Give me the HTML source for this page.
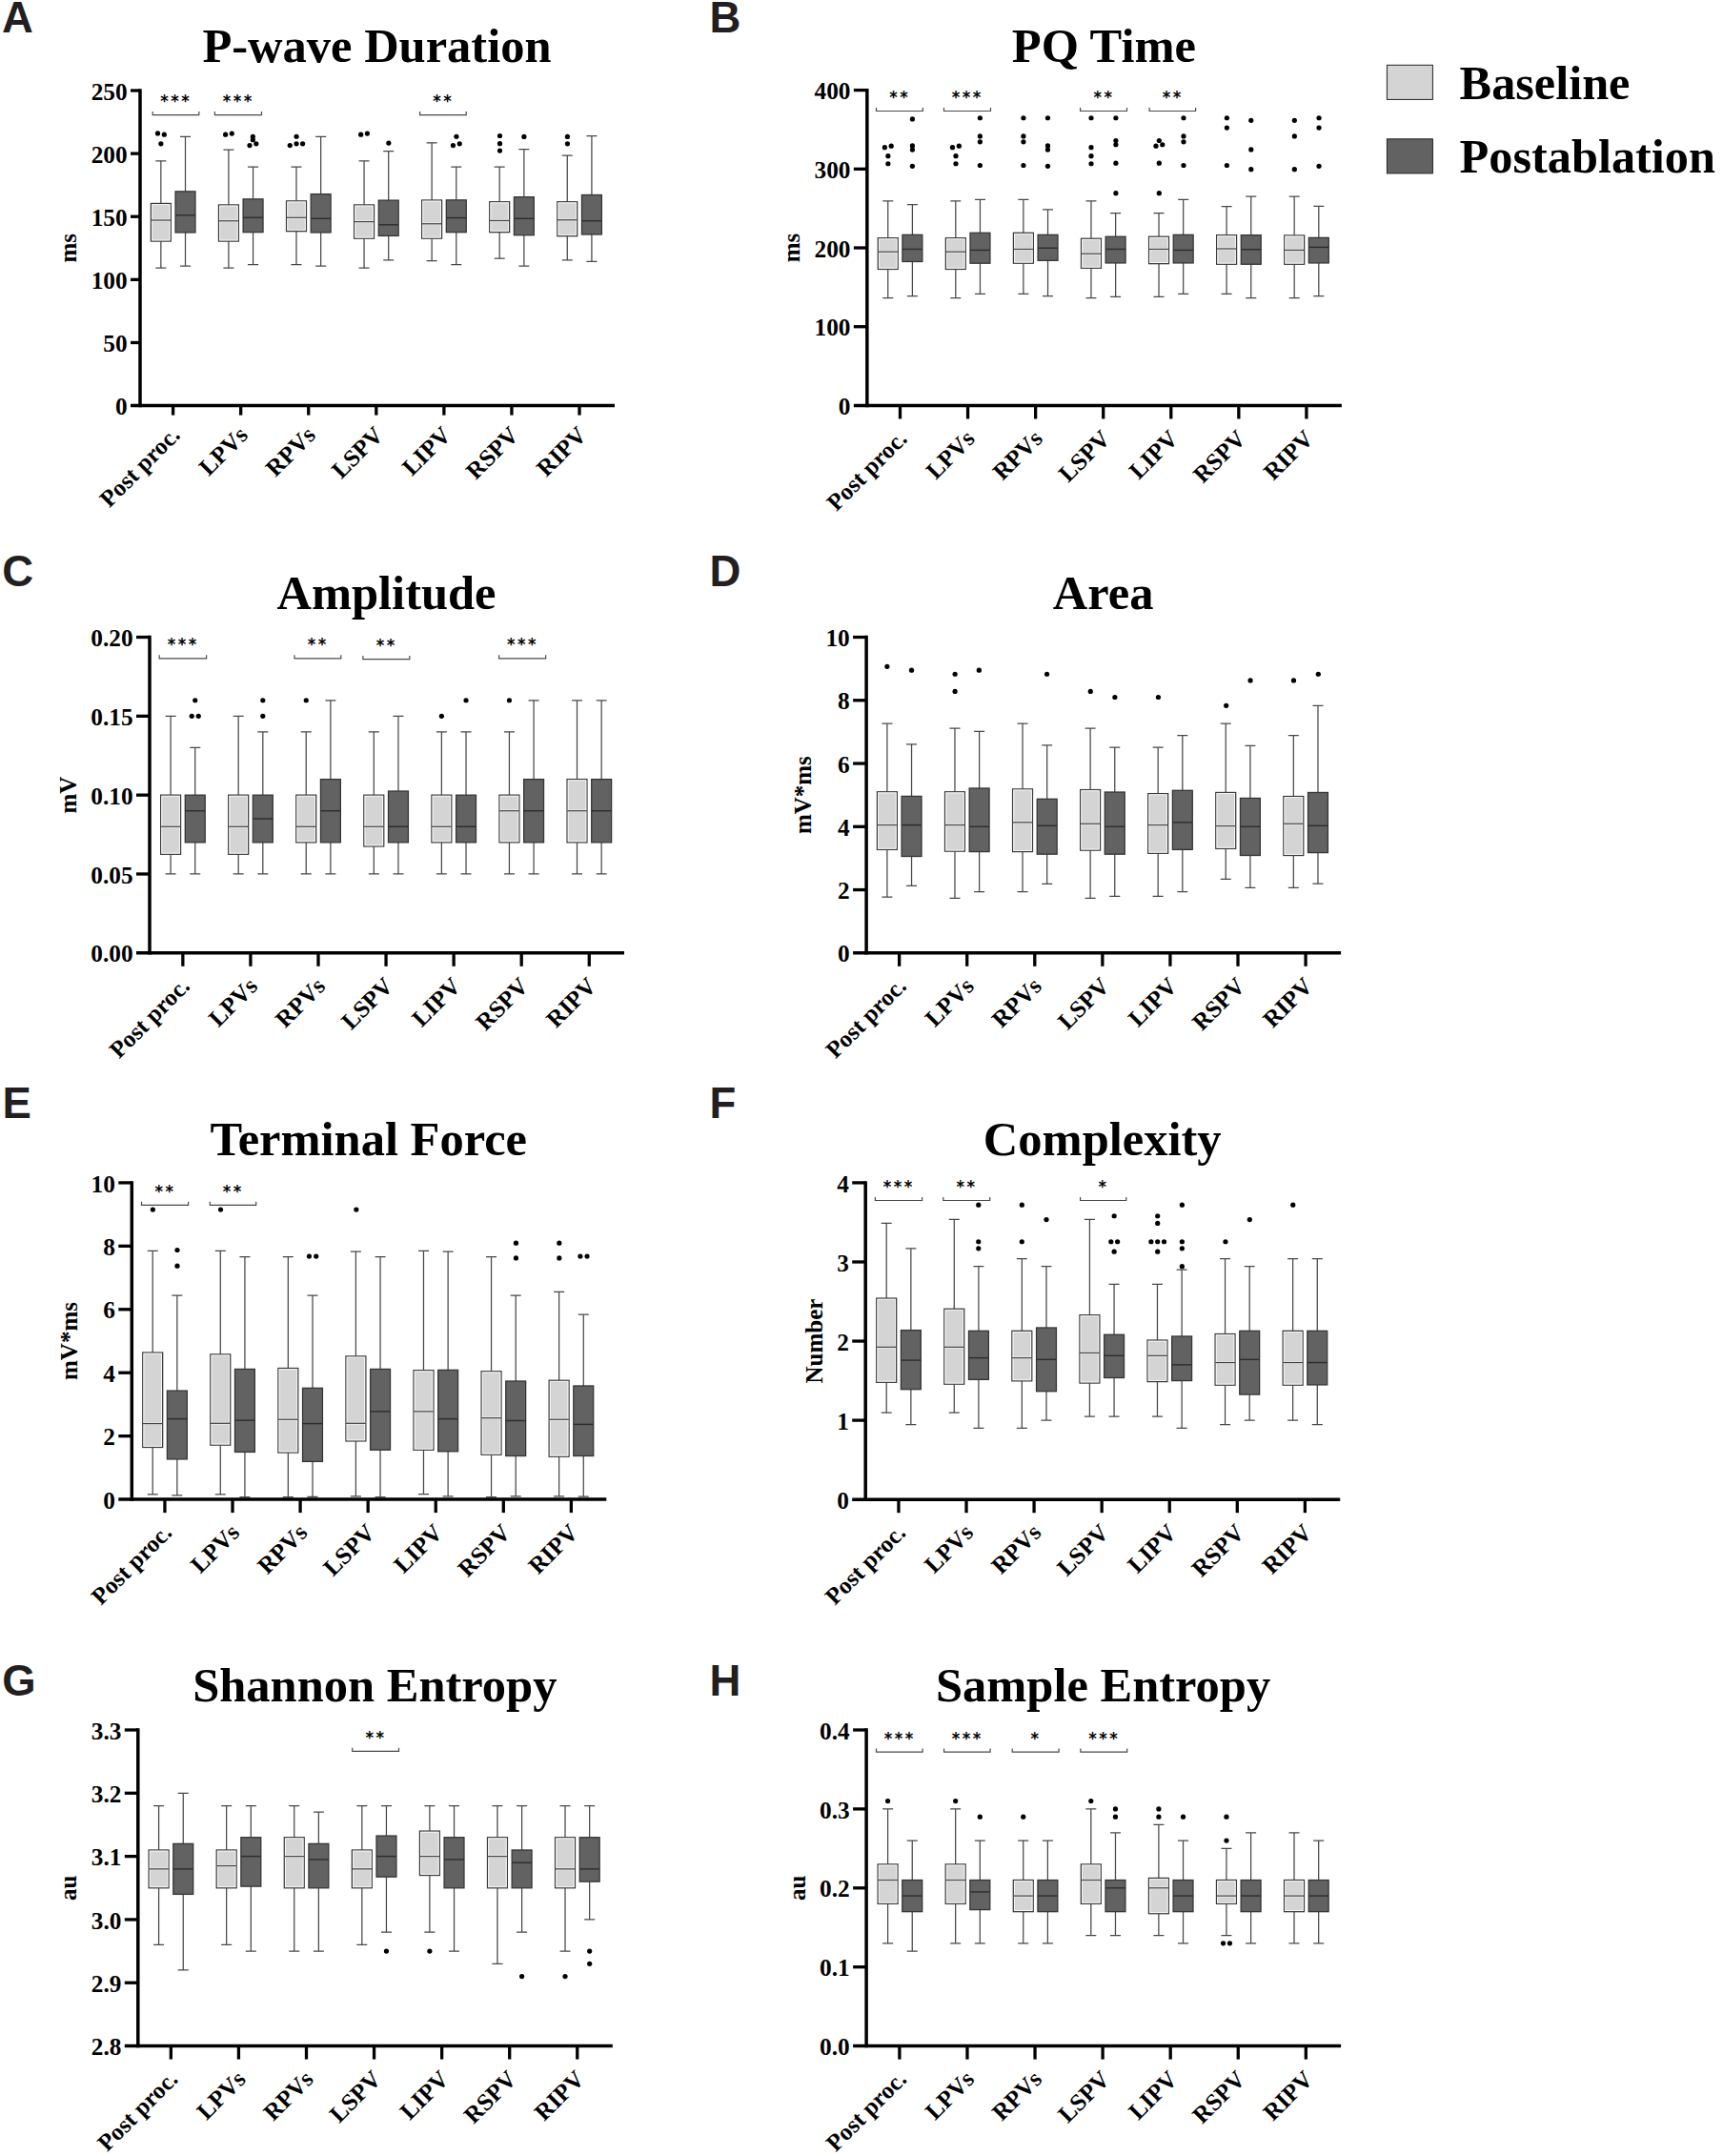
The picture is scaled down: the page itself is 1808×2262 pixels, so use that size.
<!DOCTYPE html>
<html lang="en">
<head>
<meta charset="utf-8">
<title>P-wave parameters: baseline vs postablation</title>
<style>
html,body{margin:0;padding:0;background:#fff;}
body{width:1808px;height:2262px;overflow:hidden;}
svg{display:block;}
svg text{font-family:"Liberation Serif",serif;fill:#000;}
</style>
</head>
<body>
<svg width="1808" height="2262" viewBox="0 0 1808 2262">
<rect width="1808" height="2262" fill="#fff"/>
<g id="panelA">
<path d="M168.85 168.93V213.47M168.85 253.09V281.09M163.35 168.93h11M163.35 281.09h11" stroke="#484848" stroke-width="1.25" fill="none"/>
<rect x="158.4" y="213.47" width="20.9" height="39.61" fill="#d4d4d4" stroke="#3c3c3c" stroke-width="1.3"/>
<rect x="159.55" y="214.62" width="18.6" height="37.31" fill="none" stroke="#f6f6f6" stroke-width="1"/>
<path d="M159 231.03h19.7" stroke="#f0f0f0" stroke-width="2.7"/>
<path d="M158.4 231.03h20.9" stroke="#464646" stroke-width="1.3"/>
<circle cx="165.53" cy="139.91" r="2.6" fill="#000"/>
<circle cx="172.34" cy="141.22" r="2.6" fill="#000"/>
<circle cx="168.86" cy="150.79" r="2.6" fill="#000"/>
<path d="M194.5 143.25V200.85M194.5 243.94V279.06M189 143.25h11M189 279.06h11" stroke="#484848" stroke-width="1.25" fill="none"/>
<rect x="184.05" y="200.85" width="20.9" height="43.09" fill="#626262" stroke="#363636" stroke-width="1.3"/>
<path d="M184.05 225.81h20.9" stroke="#2c2c2c" stroke-width="1.4"/>
<path d="M239.92 157.18V214.93M239.92 253.09V281.09M234.42 157.18h11M234.42 281.09h11" stroke="#484848" stroke-width="1.25" fill="none"/>
<rect x="229.47" y="214.93" width="20.9" height="38.16" fill="#d4d4d4" stroke="#3c3c3c" stroke-width="1.3"/>
<rect x="230.62" y="216.08" width="18.6" height="35.86" fill="none" stroke="#f6f6f6" stroke-width="1"/>
<path d="M230.07 231.76h19.7" stroke="#f0f0f0" stroke-width="2.7"/>
<path d="M229.47 231.76h20.9" stroke="#464646" stroke-width="1.3"/>
<circle cx="236.62" cy="141.22" r="2.6" fill="#000"/>
<circle cx="243.3" cy="140.06" r="2.6" fill="#000"/>
<path d="M265.57 175.17V208.83M265.57 243.65V277.61M260.07 175.17h11M260.07 277.61h11" stroke="#484848" stroke-width="1.25" fill="none"/>
<rect x="255.12" y="208.83" width="20.9" height="34.82" fill="#626262" stroke="#363636" stroke-width="1.3"/>
<path d="M255.12 228.27h20.9" stroke="#2c2c2c" stroke-width="1.4"/>
<circle cx="265.35" cy="143.25" r="2.6" fill="#000"/>
<circle cx="265.35" cy="146.73" r="2.6" fill="#000"/>
<circle cx="262.01" cy="152.53" r="2.6" fill="#000"/>
<circle cx="268.83" cy="150.79" r="2.6" fill="#000"/>
<path d="M310.99 175.17V210.86M310.99 242.64V277.61M305.49 175.17h11M305.49 277.61h11" stroke="#484848" stroke-width="1.25" fill="none"/>
<rect x="300.54" y="210.86" width="20.9" height="31.78" fill="#d4d4d4" stroke="#3c3c3c" stroke-width="1.3"/>
<rect x="301.69" y="212.01" width="18.6" height="29.48" fill="none" stroke="#f6f6f6" stroke-width="1"/>
<path d="M301.14 228.27h19.7" stroke="#f0f0f0" stroke-width="2.7"/>
<path d="M300.54 228.27h20.9" stroke="#464646" stroke-width="1.3"/>
<circle cx="311.06" cy="143.25" r="2.6" fill="#000"/>
<circle cx="304.24" cy="152.53" r="2.6" fill="#000"/>
<circle cx="311.06" cy="150.79" r="2.6" fill="#000"/>
<circle cx="317.59" cy="150.79" r="2.6" fill="#000"/>
<path d="M336.64 143.25V203.61M336.64 243.94V279.06M331.14 143.25h11M331.14 279.06h11" stroke="#484848" stroke-width="1.25" fill="none"/>
<rect x="326.19" y="203.61" width="20.9" height="40.34" fill="#626262" stroke="#363636" stroke-width="1.3"/>
<path d="M326.19 229.29h20.9" stroke="#2c2c2c" stroke-width="1.4"/>
<path d="M382.06 168.93V214.93M382.06 250.18V281.09M376.56 168.93h11M376.56 281.09h11" stroke="#484848" stroke-width="1.25" fill="none"/>
<rect x="371.61" y="214.93" width="20.9" height="35.26" fill="#d4d4d4" stroke="#3c3c3c" stroke-width="1.3"/>
<rect x="372.76" y="216.08" width="18.6" height="32.96" fill="none" stroke="#f6f6f6" stroke-width="1"/>
<path d="M372.21 232.63h19.7" stroke="#f0f0f0" stroke-width="2.7"/>
<path d="M371.61 232.63h20.9" stroke="#464646" stroke-width="1.3"/>
<circle cx="378.67" cy="141.22" r="2.6" fill="#000"/>
<circle cx="385.35" cy="140.06" r="2.6" fill="#000"/>
<path d="M407.71 158.63V210.14M407.71 247.43V272.96M402.21 158.63h11M402.21 272.96h11" stroke="#484848" stroke-width="1.25" fill="none"/>
<rect x="397.26" y="210.14" width="20.9" height="37.29" fill="#626262" stroke="#363636" stroke-width="1.3"/>
<path d="M397.26 235.82h20.9" stroke="#2c2c2c" stroke-width="1.4"/>
<circle cx="407.84" cy="150.07" r="2.6" fill="#000"/>
<path d="M453.13 149.92V209.99M453.13 250.18V273.54M447.63 149.92h11M447.63 273.54h11" stroke="#484848" stroke-width="1.25" fill="none"/>
<rect x="442.68" y="209.99" width="20.9" height="40.19" fill="#d4d4d4" stroke="#3c3c3c" stroke-width="1.3"/>
<rect x="443.83" y="211.14" width="18.6" height="37.89" fill="none" stroke="#f6f6f6" stroke-width="1"/>
<path d="M443.28 234.8h19.7" stroke="#f0f0f0" stroke-width="2.7"/>
<path d="M442.68 234.8h20.9" stroke="#464646" stroke-width="1.3"/>
<path d="M478.78 175.02V209.85M478.78 243.65V277.61M473.28 175.02h11M473.28 277.61h11" stroke="#484848" stroke-width="1.25" fill="none"/>
<rect x="468.33" y="209.85" width="20.9" height="33.81" fill="#626262" stroke="#363636" stroke-width="1.3"/>
<path d="M468.33 228.56h20.9" stroke="#2c2c2c" stroke-width="1.4"/>
<circle cx="478.93" cy="143.25" r="2.6" fill="#000"/>
<circle cx="475.45" cy="152.53" r="2.6" fill="#000"/>
<circle cx="482.27" cy="150.79" r="2.6" fill="#000"/>
<path d="M524.2 175.02V211.73M524.2 243.65V271.08M518.7 175.02h11M518.7 271.08h11" stroke="#484848" stroke-width="1.25" fill="none"/>
<rect x="513.75" y="211.73" width="20.9" height="31.92" fill="#d4d4d4" stroke="#3c3c3c" stroke-width="1.3"/>
<rect x="514.9" y="212.88" width="18.6" height="29.62" fill="none" stroke="#f6f6f6" stroke-width="1"/>
<path d="M514.35 231.47h19.7" stroke="#f0f0f0" stroke-width="2.7"/>
<path d="M513.75 231.47h20.9" stroke="#464646" stroke-width="1.3"/>
<circle cx="524.49" cy="142.52" r="2.6" fill="#000"/>
<circle cx="524.49" cy="150.65" r="2.6" fill="#000"/>
<circle cx="524.49" cy="158.05" r="2.6" fill="#000"/>
<path d="M549.85 156.6V206.66M549.85 246.7V279.06M544.35 156.6h11M544.35 279.06h11" stroke="#484848" stroke-width="1.25" fill="none"/>
<rect x="539.4" y="206.66" width="20.9" height="40.05" fill="#626262" stroke="#363636" stroke-width="1.3"/>
<path d="M539.4 229.29h20.9" stroke="#2c2c2c" stroke-width="1.4"/>
<circle cx="549.88" cy="143.39" r="2.6" fill="#000"/>
<path d="M595.27 163.13V211.73M595.27 247.72V272.96M589.77 163.13h11M589.77 272.96h11" stroke="#484848" stroke-width="1.25" fill="none"/>
<rect x="584.82" y="211.73" width="20.9" height="35.98" fill="#d4d4d4" stroke="#3c3c3c" stroke-width="1.3"/>
<rect x="585.97" y="212.88" width="18.6" height="33.68" fill="none" stroke="#f6f6f6" stroke-width="1"/>
<path d="M585.42 230.74h19.7" stroke="#f0f0f0" stroke-width="2.7"/>
<path d="M584.82 230.74h20.9" stroke="#464646" stroke-width="1.3"/>
<circle cx="595.44" cy="143.39" r="2.6" fill="#000"/>
<circle cx="595.44" cy="150.79" r="2.6" fill="#000"/>
<path d="M620.92 142.52V204.48M620.92 245.98V274.41M615.42 142.52h11M615.42 274.41h11" stroke="#484848" stroke-width="1.25" fill="none"/>
<rect x="610.47" y="204.48" width="20.9" height="41.5" fill="#626262" stroke="#363636" stroke-width="1.3"/>
<path d="M610.47 231.76h20.9" stroke="#2c2c2c" stroke-width="1.4"/>
<path d="M160.2 117.1V120.7H208.8V117.1" stroke="#4a4a4a" stroke-width="1.2" fill="none"/>
<text transform="translate(184.84 112) scale(0.915 1)" font-size="17.8" text-anchor="middle" letter-spacing="2.7" font-weight="bold" style="font-family:'DejaVu Sans',sans-serif">***</text>
<path d="M225.4 117.1V120.7H274.5V117.1" stroke="#4a4a4a" stroke-width="1.2" fill="none"/>
<text transform="translate(250.29 112) scale(0.915 1)" font-size="17.8" text-anchor="middle" letter-spacing="2.7" font-weight="bold" style="font-family:'DejaVu Sans',sans-serif">***</text>
<path d="M440.6 117.1V120.7H489.2V117.1" stroke="#4a4a4a" stroke-width="1.2" fill="none"/>
<text transform="translate(465.24 112) scale(0.915 1)" font-size="17.8" text-anchor="middle" letter-spacing="2.7" font-weight="bold" style="font-family:'DejaVu Sans',sans-serif">**</text>
<path d="M147 93.35V427.35" stroke="#000" stroke-width="3.5"/>
<path d="M137 425.6H645" stroke="#000" stroke-width="3.5"/>
<path d="M137 95H147" stroke="#000" stroke-width="3.3"/>
<text x="133.6" y="104.6" font-size="25.3" text-anchor="end" font-weight="bold">250</text>
<path d="M137 161.12H147" stroke="#000" stroke-width="3.3"/>
<text x="133.6" y="170.72" font-size="25.3" text-anchor="end" font-weight="bold">200</text>
<path d="M137 227.24H147" stroke="#000" stroke-width="3.3"/>
<text x="133.6" y="236.84" font-size="25.3" text-anchor="end" font-weight="bold">150</text>
<path d="M137 293.36H147" stroke="#000" stroke-width="3.3"/>
<text x="133.6" y="302.96" font-size="25.3" text-anchor="end" font-weight="bold">100</text>
<path d="M137 359.48H147" stroke="#000" stroke-width="3.3"/>
<text x="133.6" y="369.08" font-size="25.3" text-anchor="end" font-weight="bold">50</text>
<text x="133.6" y="435.2" font-size="25.3" text-anchor="end" font-weight="bold">0</text>
<path d="M181.6 425.6V435.6" stroke="#000" stroke-width="3.3"/>
<text transform="translate(190.3 457.85) rotate(-45)" font-size="25.1" text-anchor="end" font-weight="bold">Post proc.</text>
<path d="M252.67 425.6V435.6" stroke="#000" stroke-width="3.3"/>
<text transform="translate(261.37 457.85) rotate(-45)" font-size="25.1" text-anchor="end" font-weight="bold">LPVs</text>
<path d="M323.74 425.6V435.6" stroke="#000" stroke-width="3.3"/>
<text transform="translate(332.44 457.85) rotate(-45)" font-size="25.1" text-anchor="end" font-weight="bold">RPVs</text>
<path d="M394.81 425.6V435.6" stroke="#000" stroke-width="3.3"/>
<text transform="translate(403.51 457.85) rotate(-45)" font-size="25.1" text-anchor="end" font-weight="bold">LSPV</text>
<path d="M465.88 425.6V435.6" stroke="#000" stroke-width="3.3"/>
<text transform="translate(474.58 457.85) rotate(-45)" font-size="25.1" text-anchor="end" font-weight="bold">LIPV</text>
<path d="M536.95 425.6V435.6" stroke="#000" stroke-width="3.3"/>
<text transform="translate(545.65 457.85) rotate(-45)" font-size="25.1" text-anchor="end" font-weight="bold">RSPV</text>
<path d="M608.02 425.6V435.6" stroke="#000" stroke-width="3.3"/>
<text transform="translate(616.72 457.85) rotate(-45)" font-size="25.1" text-anchor="end" font-weight="bold">RIPV</text>
<text transform="translate(80.4 260.3) rotate(-90)" font-size="25" text-anchor="middle" font-weight="bold">ms</text>
<text x="395.5" y="65.2" font-size="50.5" text-anchor="middle" font-weight="bold">P-wave Duration</text>
<text x="2" y="33.8" font-size="45.5" style="font-family:'Liberation Sans',sans-serif;fill:#231f20" font-weight="bold">A</text>
</g>
<g id="panelB">
<path d="M931.75 210.79V249.67M931.75 282.46V312.5M926.25 210.79h11M926.25 312.5h11" stroke="#484848" stroke-width="1.25" fill="none"/>
<rect x="921.3" y="249.67" width="20.9" height="32.79" fill="#d4d4d4" stroke="#3c3c3c" stroke-width="1.3"/>
<rect x="922.45" y="250.82" width="18.6" height="30.49" fill="none" stroke="#f6f6f6" stroke-width="1"/>
<path d="M921.9 264.18h19.7" stroke="#f0f0f0" stroke-width="2.7"/>
<path d="M921.3 264.18h20.9" stroke="#464646" stroke-width="1.3"/>
<circle cx="928.4" cy="154.63" r="2.6" fill="#000"/>
<circle cx="935.22" cy="153.18" r="2.6" fill="#000"/>
<circle cx="931.88" cy="163.63" r="2.6" fill="#000"/>
<circle cx="931.88" cy="171.76" r="2.6" fill="#000"/>
<path d="M957.4 214.7V246.33M957.4 274.48V310.61M951.9 214.7h11M951.9 310.61h11" stroke="#484848" stroke-width="1.25" fill="none"/>
<rect x="946.95" y="246.33" width="20.9" height="28.15" fill="#626262" stroke="#363636" stroke-width="1.3"/>
<path d="M946.95 261.42h20.9" stroke="#2c2c2c" stroke-width="1.4"/>
<circle cx="957.41" cy="124.89" r="2.6" fill="#000"/>
<circle cx="957.41" cy="152.89" r="2.6" fill="#000"/>
<circle cx="957.41" cy="157.1" r="2.6" fill="#000"/>
<circle cx="957.41" cy="174.37" r="2.6" fill="#000"/>
<path d="M1002.82 210.79V249.67M1002.82 282.46V312.5M997.32 210.79h11M997.32 312.5h11" stroke="#484848" stroke-width="1.25" fill="none"/>
<rect x="992.37" y="249.67" width="20.9" height="32.79" fill="#d4d4d4" stroke="#3c3c3c" stroke-width="1.3"/>
<rect x="993.52" y="250.82" width="18.6" height="30.49" fill="none" stroke="#f6f6f6" stroke-width="1"/>
<path d="M992.97 264.18h19.7" stroke="#f0f0f0" stroke-width="2.7"/>
<path d="M992.37 264.18h20.9" stroke="#464646" stroke-width="1.3"/>
<circle cx="999.49" cy="154.63" r="2.6" fill="#000"/>
<circle cx="1006.31" cy="153.18" r="2.6" fill="#000"/>
<circle cx="1002.98" cy="163.63" r="2.6" fill="#000"/>
<circle cx="1002.98" cy="171.76" r="2.6" fill="#000"/>
<path d="M1028.47 209.34V244.3M1028.47 276.22V308.44M1022.97 209.34h11M1022.97 308.44h11" stroke="#484848" stroke-width="1.25" fill="none"/>
<rect x="1018.02" y="244.3" width="20.9" height="31.92" fill="#626262" stroke="#363636" stroke-width="1.3"/>
<path d="M1018.02 262.44h20.9" stroke="#2c2c2c" stroke-width="1.4"/>
<circle cx="1028.37" cy="123.73" r="2.6" fill="#000"/>
<circle cx="1028.37" cy="142.88" r="2.6" fill="#000"/>
<circle cx="1028.37" cy="148.83" r="2.6" fill="#000"/>
<circle cx="1028.37" cy="173.5" r="2.6" fill="#000"/>
<path d="M1073.89 209.34V244.3M1073.89 276.22V308.44M1068.39 209.34h11M1068.39 308.44h11" stroke="#484848" stroke-width="1.25" fill="none"/>
<rect x="1063.44" y="244.3" width="20.9" height="31.92" fill="#d4d4d4" stroke="#3c3c3c" stroke-width="1.3"/>
<rect x="1064.59" y="245.45" width="18.6" height="29.62" fill="none" stroke="#f6f6f6" stroke-width="1"/>
<path d="M1064.04 261.42h19.7" stroke="#f0f0f0" stroke-width="2.7"/>
<path d="M1063.44 261.42h20.9" stroke="#464646" stroke-width="1.3"/>
<circle cx="1073.93" cy="123.73" r="2.6" fill="#000"/>
<circle cx="1073.93" cy="142.88" r="2.6" fill="#000"/>
<circle cx="1073.93" cy="148.83" r="2.6" fill="#000"/>
<circle cx="1073.93" cy="173.5" r="2.6" fill="#000"/>
<path d="M1099.54 219.93V246.33M1099.54 273.32V310.61M1094.04 219.93h11M1094.04 310.61h11" stroke="#484848" stroke-width="1.25" fill="none"/>
<rect x="1089.09" y="246.33" width="20.9" height="26.99" fill="#626262" stroke="#363636" stroke-width="1.3"/>
<path d="M1089.09 260.26h20.9" stroke="#2c2c2c" stroke-width="1.4"/>
<circle cx="1099.46" cy="123.73" r="2.6" fill="#000"/>
<circle cx="1099.46" cy="152.89" r="2.6" fill="#000"/>
<circle cx="1099.46" cy="157.1" r="2.6" fill="#000"/>
<circle cx="1099.46" cy="174.37" r="2.6" fill="#000"/>
<path d="M1144.96 210.79V250.25M1144.96 281.3V312.5M1139.46 210.79h11M1139.46 312.5h11" stroke="#484848" stroke-width="1.25" fill="none"/>
<rect x="1134.51" y="250.25" width="20.9" height="31.05" fill="#d4d4d4" stroke="#3c3c3c" stroke-width="1.3"/>
<rect x="1135.66" y="251.4" width="18.6" height="28.75" fill="none" stroke="#f6f6f6" stroke-width="1"/>
<path d="M1135.11 266.21h19.7" stroke="#f0f0f0" stroke-width="2.7"/>
<path d="M1134.51 266.21h20.9" stroke="#464646" stroke-width="1.3"/>
<circle cx="1145.02" cy="123.73" r="2.6" fill="#000"/>
<circle cx="1145.02" cy="154.63" r="2.6" fill="#000"/>
<circle cx="1145.02" cy="163.63" r="2.6" fill="#000"/>
<circle cx="1145.02" cy="171.76" r="2.6" fill="#000"/>
<path d="M1170.61 223.7V248.22M1170.61 275.93V311.48M1165.11 223.7h11M1165.11 311.48h11" stroke="#484848" stroke-width="1.25" fill="none"/>
<rect x="1160.16" y="248.22" width="20.9" height="27.71" fill="#626262" stroke="#363636" stroke-width="1.3"/>
<path d="M1160.16 261.42h20.9" stroke="#2c2c2c" stroke-width="1.4"/>
<circle cx="1170.88" cy="123.73" r="2.6" fill="#000"/>
<circle cx="1170.88" cy="147.52" r="2.6" fill="#000"/>
<circle cx="1170.88" cy="151.73" r="2.6" fill="#000"/>
<circle cx="1170.88" cy="171.18" r="2.6" fill="#000"/>
<circle cx="1170.88" cy="202.66" r="2.6" fill="#000"/>
<path d="M1216.03 223.7V248.22M1216.03 276.66V311.48M1210.53 223.7h11M1210.53 311.48h11" stroke="#484848" stroke-width="1.25" fill="none"/>
<rect x="1205.58" y="248.22" width="20.9" height="28.44" fill="#d4d4d4" stroke="#3c3c3c" stroke-width="1.3"/>
<rect x="1206.73" y="249.37" width="18.6" height="26.14" fill="none" stroke="#f6f6f6" stroke-width="1"/>
<path d="M1206.18 261.42h19.7" stroke="#f0f0f0" stroke-width="2.7"/>
<path d="M1205.58 261.42h20.9" stroke="#464646" stroke-width="1.3"/>
<circle cx="1216.3" cy="147.52" r="2.6" fill="#000"/>
<circle cx="1212.96" cy="153.18" r="2.6" fill="#000"/>
<circle cx="1219.78" cy="151.73" r="2.6" fill="#000"/>
<circle cx="1216.3" cy="171.18" r="2.6" fill="#000"/>
<circle cx="1216.3" cy="202.66" r="2.6" fill="#000"/>
<path d="M1241.68 209.34V246.33M1241.68 275.93V308.44M1236.18 209.34h11M1236.18 308.44h11" stroke="#484848" stroke-width="1.25" fill="none"/>
<rect x="1231.23" y="246.33" width="20.9" height="29.6" fill="#626262" stroke="#363636" stroke-width="1.3"/>
<path d="M1231.23 262.44h20.9" stroke="#2c2c2c" stroke-width="1.4"/>
<circle cx="1241.98" cy="123.73" r="2.6" fill="#000"/>
<circle cx="1241.98" cy="142.88" r="2.6" fill="#000"/>
<circle cx="1241.98" cy="148.83" r="2.6" fill="#000"/>
<circle cx="1241.98" cy="173.5" r="2.6" fill="#000"/>
<path d="M1287.1 216.59V246.63M1287.1 277.24V308.44M1281.6 216.59h11M1281.6 308.44h11" stroke="#484848" stroke-width="1.25" fill="none"/>
<rect x="1276.65" y="246.63" width="20.9" height="30.62" fill="#d4d4d4" stroke="#3c3c3c" stroke-width="1.3"/>
<rect x="1277.8" y="247.78" width="18.6" height="28.32" fill="none" stroke="#f6f6f6" stroke-width="1"/>
<path d="M1277.25 260.99h19.7" stroke="#f0f0f0" stroke-width="2.7"/>
<path d="M1276.65 260.99h20.9" stroke="#464646" stroke-width="1.3"/>
<circle cx="1287.39" cy="123.73" r="2.6" fill="#000"/>
<circle cx="1287.39" cy="134.03" r="2.6" fill="#000"/>
<circle cx="1287.39" cy="173.5" r="2.6" fill="#000"/>
<path d="M1312.75 206V246.63M1312.75 277.24V312.5M1307.25 206h11M1307.25 312.5h11" stroke="#484848" stroke-width="1.25" fill="none"/>
<rect x="1302.3" y="246.63" width="20.9" height="30.62" fill="#626262" stroke="#363636" stroke-width="1.3"/>
<path d="M1302.3 261.72h20.9" stroke="#2c2c2c" stroke-width="1.4"/>
<circle cx="1312.79" cy="126.34" r="2.6" fill="#000"/>
<circle cx="1312.79" cy="156.96" r="2.6" fill="#000"/>
<circle cx="1312.79" cy="177.7" r="2.6" fill="#000"/>
<path d="M1358.17 206V246.92M1358.17 277.24V312.5M1352.67 206h11M1352.67 312.5h11" stroke="#484848" stroke-width="1.25" fill="none"/>
<rect x="1347.72" y="246.92" width="20.9" height="30.33" fill="#d4d4d4" stroke="#3c3c3c" stroke-width="1.3"/>
<rect x="1348.87" y="248.07" width="18.6" height="28.03" fill="none" stroke="#f6f6f6" stroke-width="1"/>
<path d="M1348.32 262.44h19.7" stroke="#f0f0f0" stroke-width="2.7"/>
<path d="M1347.72 262.44h20.9" stroke="#464646" stroke-width="1.3"/>
<circle cx="1358.35" cy="126.34" r="2.6" fill="#000"/>
<circle cx="1358.35" cy="142.88" r="2.6" fill="#000"/>
<circle cx="1358.35" cy="177.7" r="2.6" fill="#000"/>
<path d="M1383.82 216.45V249.38M1383.82 275.93V310.61M1378.32 216.45h11M1378.32 310.61h11" stroke="#484848" stroke-width="1.25" fill="none"/>
<rect x="1373.37" y="249.38" width="20.9" height="26.55" fill="#626262" stroke="#363636" stroke-width="1.3"/>
<path d="M1373.37 259.39h20.9" stroke="#2c2c2c" stroke-width="1.4"/>
<circle cx="1384.03" cy="123.73" r="2.6" fill="#000"/>
<circle cx="1384.03" cy="134.03" r="2.6" fill="#000"/>
<circle cx="1384.03" cy="174.37" r="2.6" fill="#000"/>
<path d="M919.5 112.9V116.5H968.3V112.9" stroke="#4a4a4a" stroke-width="1.2" fill="none"/>
<text transform="translate(944.24 107.8) scale(0.915 1)" font-size="17.8" text-anchor="middle" letter-spacing="2.7" font-weight="bold" style="font-family:'DejaVu Sans',sans-serif">**</text>
<path d="M990.5 112.9V116.5H1039.5V112.9" stroke="#4a4a4a" stroke-width="1.2" fill="none"/>
<text transform="translate(1015.34 107.8) scale(0.915 1)" font-size="17.8" text-anchor="middle" letter-spacing="2.7" font-weight="bold" style="font-family:'DejaVu Sans',sans-serif">***</text>
<path d="M1133.6 112.9V116.5H1182.5V112.9" stroke="#4a4a4a" stroke-width="1.2" fill="none"/>
<text transform="translate(1158.39 107.8) scale(0.915 1)" font-size="17.8" text-anchor="middle" letter-spacing="2.7" font-weight="bold" style="font-family:'DejaVu Sans',sans-serif">**</text>
<path d="M1206.1 112.9V116.5H1254.6V112.9" stroke="#4a4a4a" stroke-width="1.2" fill="none"/>
<text transform="translate(1230.69 107.8) scale(0.915 1)" font-size="17.8" text-anchor="middle" letter-spacing="2.7" font-weight="bold" style="font-family:'DejaVu Sans',sans-serif">**</text>
<path d="M909.85 92.95V427.2" stroke="#000" stroke-width="3.5"/>
<path d="M895.85 425.45H1407.85" stroke="#000" stroke-width="3.5"/>
<path d="M895.85 94.6H909.85" stroke="#000" stroke-width="3.3"/>
<text x="892.45" y="104.2" font-size="25.3" text-anchor="end" font-weight="bold">400</text>
<path d="M895.85 177.31H909.85" stroke="#000" stroke-width="3.3"/>
<text x="892.45" y="186.91" font-size="25.3" text-anchor="end" font-weight="bold">300</text>
<path d="M895.85 260.02H909.85" stroke="#000" stroke-width="3.3"/>
<text x="892.45" y="269.62" font-size="25.3" text-anchor="end" font-weight="bold">200</text>
<path d="M895.85 342.74H909.85" stroke="#000" stroke-width="3.3"/>
<text x="892.45" y="352.34" font-size="25.3" text-anchor="end" font-weight="bold">100</text>
<text x="892.45" y="435.05" font-size="25.3" text-anchor="end" font-weight="bold">0</text>
<path d="M944.5 425.45V439.45" stroke="#000" stroke-width="3.3"/>
<text transform="translate(953.2 461.7) rotate(-45)" font-size="25.1" text-anchor="end" font-weight="bold">Post proc.</text>
<path d="M1015.57 425.45V439.45" stroke="#000" stroke-width="3.3"/>
<text transform="translate(1024.27 461.7) rotate(-45)" font-size="25.1" text-anchor="end" font-weight="bold">LPVs</text>
<path d="M1086.64 425.45V439.45" stroke="#000" stroke-width="3.3"/>
<text transform="translate(1095.34 461.7) rotate(-45)" font-size="25.1" text-anchor="end" font-weight="bold">RPVs</text>
<path d="M1157.71 425.45V439.45" stroke="#000" stroke-width="3.3"/>
<text transform="translate(1166.41 461.7) rotate(-45)" font-size="25.1" text-anchor="end" font-weight="bold">LSPV</text>
<path d="M1228.78 425.45V439.45" stroke="#000" stroke-width="3.3"/>
<text transform="translate(1237.48 461.7) rotate(-45)" font-size="25.1" text-anchor="end" font-weight="bold">LIPV</text>
<path d="M1299.85 425.45V439.45" stroke="#000" stroke-width="3.3"/>
<text transform="translate(1308.55 461.7) rotate(-45)" font-size="25.1" text-anchor="end" font-weight="bold">RSPV</text>
<path d="M1370.92 425.45V439.45" stroke="#000" stroke-width="3.3"/>
<text transform="translate(1379.62 461.7) rotate(-45)" font-size="25.1" text-anchor="end" font-weight="bold">RIPV</text>
<text transform="translate(839 260.02) rotate(-90)" font-size="25" text-anchor="middle" font-weight="bold">ms</text>
<text x="1158.35" y="65.2" font-size="50.5" text-anchor="middle" font-weight="bold">PQ Time</text>
<text x="744.6" y="33.8" font-size="45.5" style="font-family:'Liberation Sans',sans-serif;fill:#231f20" font-weight="bold">B</text>
</g>
<g id="panelC">
<path d="M179.1 751.33V834.15M179.1 896.27V916.97M173.6 751.33h11M173.6 916.97h11" stroke="#484848" stroke-width="1.25" fill="none"/>
<rect x="168.65" y="834.15" width="20.9" height="62.12" fill="#d4d4d4" stroke="#3c3c3c" stroke-width="1.3"/>
<rect x="169.8" y="835.3" width="18.6" height="59.82" fill="none" stroke="#f6f6f6" stroke-width="1"/>
<path d="M169.25 867.28h19.7" stroke="#f0f0f0" stroke-width="2.7"/>
<path d="M168.65 867.28h20.9" stroke="#464646" stroke-width="1.3"/>
<path d="M204.75 784.45V834.15M204.75 883.84V916.97M199.25 784.45h11M199.25 916.97h11" stroke="#484848" stroke-width="1.25" fill="none"/>
<rect x="194.3" y="834.15" width="20.9" height="49.69" fill="#626262" stroke="#363636" stroke-width="1.3"/>
<path d="M194.3 850.72h20.9" stroke="#2c2c2c" stroke-width="1.4"/>
<circle cx="204.75" cy="734.76" r="2.6" fill="#000"/>
<circle cx="201.25" cy="751.33" r="2.6" fill="#000"/>
<circle cx="208.25" cy="751.33" r="2.6" fill="#000"/>
<path d="M250.17 751.33V834.15M250.17 896.27V916.97M244.67 751.33h11M244.67 916.97h11" stroke="#484848" stroke-width="1.25" fill="none"/>
<rect x="239.72" y="834.15" width="20.9" height="62.12" fill="#d4d4d4" stroke="#3c3c3c" stroke-width="1.3"/>
<rect x="240.87" y="835.3" width="18.6" height="59.82" fill="none" stroke="#f6f6f6" stroke-width="1"/>
<path d="M240.32 867.28h19.7" stroke="#f0f0f0" stroke-width="2.7"/>
<path d="M239.72 867.28h20.9" stroke="#464646" stroke-width="1.3"/>
<path d="M275.82 767.89V834.15M275.82 883.84V916.97M270.32 767.89h11M270.32 916.97h11" stroke="#484848" stroke-width="1.25" fill="none"/>
<rect x="265.37" y="834.15" width="20.9" height="49.69" fill="#626262" stroke="#363636" stroke-width="1.3"/>
<path d="M265.37 859h20.9" stroke="#2c2c2c" stroke-width="1.4"/>
<circle cx="275.82" cy="734.76" r="2.6" fill="#000"/>
<circle cx="275.82" cy="751.33" r="2.6" fill="#000"/>
<path d="M321.24 767.89V834.15M321.24 883.84V916.97M315.74 767.89h11M315.74 916.97h11" stroke="#484848" stroke-width="1.25" fill="none"/>
<rect x="310.79" y="834.15" width="20.9" height="49.69" fill="#d4d4d4" stroke="#3c3c3c" stroke-width="1.3"/>
<rect x="311.94" y="835.3" width="18.6" height="47.39" fill="none" stroke="#f6f6f6" stroke-width="1"/>
<path d="M311.39 867.28h19.7" stroke="#f0f0f0" stroke-width="2.7"/>
<path d="M310.79 867.28h20.9" stroke="#464646" stroke-width="1.3"/>
<circle cx="321.24" cy="734.76" r="2.6" fill="#000"/>
<path d="M346.89 734.76V817.59M346.89 883.84V916.97M341.39 734.76h11M341.39 916.97h11" stroke="#484848" stroke-width="1.25" fill="none"/>
<rect x="336.44" y="817.59" width="20.9" height="66.26" fill="#626262" stroke="#363636" stroke-width="1.3"/>
<path d="M336.44 850.72h20.9" stroke="#2c2c2c" stroke-width="1.4"/>
<path d="M392.31 767.89V834.15M392.31 887.99V916.97M386.81 767.89h11M386.81 916.97h11" stroke="#484848" stroke-width="1.25" fill="none"/>
<rect x="381.86" y="834.15" width="20.9" height="53.84" fill="#d4d4d4" stroke="#3c3c3c" stroke-width="1.3"/>
<rect x="383.01" y="835.3" width="18.6" height="51.54" fill="none" stroke="#f6f6f6" stroke-width="1"/>
<path d="M382.46 867.28h19.7" stroke="#f0f0f0" stroke-width="2.7"/>
<path d="M381.86 867.28h20.9" stroke="#464646" stroke-width="1.3"/>
<path d="M417.96 751.33V830.01M417.96 883.84V916.97M412.46 751.33h11M412.46 916.97h11" stroke="#484848" stroke-width="1.25" fill="none"/>
<rect x="407.51" y="830.01" width="20.9" height="53.84" fill="#626262" stroke="#363636" stroke-width="1.3"/>
<path d="M407.51 867.28h20.9" stroke="#2c2c2c" stroke-width="1.4"/>
<path d="M463.38 767.89V834.15M463.38 883.84V916.97M457.88 767.89h11M457.88 916.97h11" stroke="#484848" stroke-width="1.25" fill="none"/>
<rect x="452.93" y="834.15" width="20.9" height="49.69" fill="#d4d4d4" stroke="#3c3c3c" stroke-width="1.3"/>
<rect x="454.08" y="835.3" width="18.6" height="47.39" fill="none" stroke="#f6f6f6" stroke-width="1"/>
<path d="M453.53 867.28h19.7" stroke="#f0f0f0" stroke-width="2.7"/>
<path d="M452.93 867.28h20.9" stroke="#464646" stroke-width="1.3"/>
<circle cx="463.38" cy="751.33" r="2.6" fill="#000"/>
<path d="M489.03 767.89V834.15M489.03 883.84V916.97M483.53 767.89h11M483.53 916.97h11" stroke="#484848" stroke-width="1.25" fill="none"/>
<rect x="478.58" y="834.15" width="20.9" height="49.69" fill="#626262" stroke="#363636" stroke-width="1.3"/>
<path d="M478.58 867.28h20.9" stroke="#2c2c2c" stroke-width="1.4"/>
<circle cx="489.03" cy="734.76" r="2.6" fill="#000"/>
<path d="M534.45 767.89V834.15M534.45 883.84V916.97M528.95 767.89h11M528.95 916.97h11" stroke="#484848" stroke-width="1.25" fill="none"/>
<rect x="524" y="834.15" width="20.9" height="49.69" fill="#d4d4d4" stroke="#3c3c3c" stroke-width="1.3"/>
<rect x="525.15" y="835.3" width="18.6" height="47.39" fill="none" stroke="#f6f6f6" stroke-width="1"/>
<path d="M524.6 850.72h19.7" stroke="#f0f0f0" stroke-width="2.7"/>
<path d="M524 850.72h20.9" stroke="#464646" stroke-width="1.3"/>
<circle cx="534.45" cy="734.76" r="2.6" fill="#000"/>
<path d="M560.1 734.76V817.59M560.1 883.84V916.97M554.6 734.76h11M554.6 916.97h11" stroke="#484848" stroke-width="1.25" fill="none"/>
<rect x="549.65" y="817.59" width="20.9" height="66.26" fill="#626262" stroke="#363636" stroke-width="1.3"/>
<path d="M549.65 850.72h20.9" stroke="#2c2c2c" stroke-width="1.4"/>
<path d="M605.52 734.76V817.59M605.52 883.84V916.97M600.02 734.76h11M600.02 916.97h11" stroke="#484848" stroke-width="1.25" fill="none"/>
<rect x="595.07" y="817.59" width="20.9" height="66.26" fill="#d4d4d4" stroke="#3c3c3c" stroke-width="1.3"/>
<rect x="596.22" y="818.74" width="18.6" height="63.96" fill="none" stroke="#f6f6f6" stroke-width="1"/>
<path d="M595.67 850.72h19.7" stroke="#f0f0f0" stroke-width="2.7"/>
<path d="M595.07 850.72h20.9" stroke="#464646" stroke-width="1.3"/>
<path d="M631.17 734.76V817.59M631.17 883.84V916.97M625.67 734.76h11M625.67 916.97h11" stroke="#484848" stroke-width="1.25" fill="none"/>
<rect x="620.72" y="817.59" width="20.9" height="66.26" fill="#626262" stroke="#363636" stroke-width="1.3"/>
<path d="M620.72 850.72h20.9" stroke="#2c2c2c" stroke-width="1.4"/>
<path d="M167.2 687.2V690.8H216.6V687.2" stroke="#4a4a4a" stroke-width="1.2" fill="none"/>
<text transform="translate(192.24 682.1) scale(0.915 1)" font-size="17.8" text-anchor="middle" letter-spacing="2.7" font-weight="bold" style="font-family:'DejaVu Sans',sans-serif">***</text>
<path d="M309 687.2V690.8H357.8V687.2" stroke="#4a4a4a" stroke-width="1.2" fill="none"/>
<text transform="translate(333.74 682.1) scale(0.915 1)" font-size="17.8" text-anchor="middle" letter-spacing="2.7" font-weight="bold" style="font-family:'DejaVu Sans',sans-serif">**</text>
<path d="M380.9 688.1V691.7H429.8V688.1" stroke="#4a4a4a" stroke-width="1.2" fill="none"/>
<text transform="translate(405.69 683) scale(0.915 1)" font-size="17.8" text-anchor="middle" letter-spacing="2.7" font-weight="bold" style="font-family:'DejaVu Sans',sans-serif">**</text>
<path d="M523.6 687.2V690.8H572.7V687.2" stroke="#4a4a4a" stroke-width="1.2" fill="none"/>
<text transform="translate(548.49 682.1) scale(0.915 1)" font-size="17.8" text-anchor="middle" letter-spacing="2.7" font-weight="bold" style="font-family:'DejaVu Sans',sans-serif">***</text>
<path d="M157 666.85V1001.55" stroke="#000" stroke-width="3.5"/>
<path d="M143 999.8H655" stroke="#000" stroke-width="3.5"/>
<path d="M143 668.5H157" stroke="#000" stroke-width="3.3"/>
<text x="139.6" y="678.1" font-size="25.3" text-anchor="end" font-weight="bold">0.20</text>
<path d="M143 751.33H157" stroke="#000" stroke-width="3.3"/>
<text x="139.6" y="760.93" font-size="25.3" text-anchor="end" font-weight="bold">0.15</text>
<path d="M143 834.15H157" stroke="#000" stroke-width="3.3"/>
<text x="139.6" y="843.75" font-size="25.3" text-anchor="end" font-weight="bold">0.10</text>
<path d="M143 916.97H157" stroke="#000" stroke-width="3.3"/>
<text x="139.6" y="926.57" font-size="25.3" text-anchor="end" font-weight="bold">0.05</text>
<text x="139.6" y="1009.4" font-size="25.3" text-anchor="end" font-weight="bold">0.00</text>
<path d="M191.85 999.8V1013.8" stroke="#000" stroke-width="3.3"/>
<text transform="translate(200.55 1036.05) rotate(-45)" font-size="25.1" text-anchor="end" font-weight="bold">Post proc.</text>
<path d="M262.92 999.8V1013.8" stroke="#000" stroke-width="3.3"/>
<text transform="translate(271.62 1036.05) rotate(-45)" font-size="25.1" text-anchor="end" font-weight="bold">LPVs</text>
<path d="M333.99 999.8V1013.8" stroke="#000" stroke-width="3.3"/>
<text transform="translate(342.69 1036.05) rotate(-45)" font-size="25.1" text-anchor="end" font-weight="bold">RPVs</text>
<path d="M405.06 999.8V1013.8" stroke="#000" stroke-width="3.3"/>
<text transform="translate(413.76 1036.05) rotate(-45)" font-size="25.1" text-anchor="end" font-weight="bold">LSPV</text>
<path d="M476.13 999.8V1013.8" stroke="#000" stroke-width="3.3"/>
<text transform="translate(484.83 1036.05) rotate(-45)" font-size="25.1" text-anchor="end" font-weight="bold">LIPV</text>
<path d="M547.2 999.8V1013.8" stroke="#000" stroke-width="3.3"/>
<text transform="translate(555.9 1036.05) rotate(-45)" font-size="25.1" text-anchor="end" font-weight="bold">RSPV</text>
<path d="M618.27 999.8V1013.8" stroke="#000" stroke-width="3.3"/>
<text transform="translate(626.97 1036.05) rotate(-45)" font-size="25.1" text-anchor="end" font-weight="bold">RIPV</text>
<text transform="translate(80.4 834.15) rotate(-90)" font-size="25" text-anchor="middle" font-weight="bold">mV</text>
<text x="405.5" y="639" font-size="50.5" text-anchor="middle" font-weight="bold">Amplitude</text>
<text x="2.2" y="614.5" font-size="45.5" style="font-family:'Liberation Sans',sans-serif;fill:#231f20" font-weight="bold">C</text>
</g>
<g id="panelD">
<path d="M930.9 759.07V830.74M930.9 891.39V941.2M925.4 759.07h11M925.4 941.2h11" stroke="#484848" stroke-width="1.25" fill="none"/>
<rect x="920.45" y="830.74" width="20.9" height="60.65" fill="#d4d4d4" stroke="#3c3c3c" stroke-width="1.3"/>
<rect x="921.6" y="831.89" width="18.6" height="58.35" fill="none" stroke="#f6f6f6" stroke-width="1"/>
<path d="M921.05 865.57h19.7" stroke="#f0f0f0" stroke-width="2.7"/>
<path d="M920.45 865.57h20.9" stroke="#464646" stroke-width="1.3"/>
<circle cx="930.86" cy="699.29" r="2.6" fill="#000"/>
<path d="M956.55 780.83V835.39M956.55 898.5V929.3M951.05 780.83h11M951.05 929.3h11" stroke="#484848" stroke-width="1.25" fill="none"/>
<rect x="946.1" y="835.39" width="20.9" height="63.12" fill="#626262" stroke="#363636" stroke-width="1.3"/>
<path d="M946.1 865.57h20.9" stroke="#2c2c2c" stroke-width="1.4"/>
<circle cx="956.54" cy="703.2" r="2.6" fill="#000"/>
<path d="M1001.97 764V830.74M1001.97 893.13V942.4M996.47 764h11M996.47 942.4h11" stroke="#484848" stroke-width="1.25" fill="none"/>
<rect x="991.52" y="830.74" width="20.9" height="62.39" fill="#d4d4d4" stroke="#3c3c3c" stroke-width="1.3"/>
<rect x="992.67" y="831.89" width="18.6" height="60.09" fill="none" stroke="#f6f6f6" stroke-width="1"/>
<path d="M992.12 865.57h19.7" stroke="#f0f0f0" stroke-width="2.7"/>
<path d="M991.52 865.57h20.9" stroke="#464646" stroke-width="1.3"/>
<circle cx="1002.1" cy="707.27" r="2.6" fill="#000"/>
<circle cx="1002.1" cy="725.4" r="2.6" fill="#000"/>
<path d="M1027.62 767.48V826.97M1027.62 893.57V935.7M1022.12 767.48h11M1022.12 935.7h11" stroke="#484848" stroke-width="1.25" fill="none"/>
<rect x="1017.17" y="826.97" width="20.9" height="66.6" fill="#626262" stroke="#363636" stroke-width="1.3"/>
<path d="M1017.17 867.31h20.9" stroke="#2c2c2c" stroke-width="1.4"/>
<circle cx="1027.35" cy="703.2" r="2.6" fill="#000"/>
<path d="M1073.04 759.07V827.84M1073.04 893.57V935.7M1067.54 759.07h11M1067.54 935.7h11" stroke="#484848" stroke-width="1.25" fill="none"/>
<rect x="1062.59" y="827.84" width="20.9" height="65.73" fill="#d4d4d4" stroke="#3c3c3c" stroke-width="1.3"/>
<rect x="1063.74" y="828.99" width="18.6" height="63.43" fill="none" stroke="#f6f6f6" stroke-width="1"/>
<path d="M1063.19 862.81h19.7" stroke="#f0f0f0" stroke-width="2.7"/>
<path d="M1062.59 862.81h20.9" stroke="#464646" stroke-width="1.3"/>
<path d="M1098.69 781.85V838.29M1098.69 896.18V927.3M1093.19 781.85h11M1093.19 927.3h11" stroke="#484848" stroke-width="1.25" fill="none"/>
<rect x="1088.24" y="838.29" width="20.9" height="57.89" fill="#626262" stroke="#363636" stroke-width="1.3"/>
<path d="M1088.24 866.29h20.9" stroke="#2c2c2c" stroke-width="1.4"/>
<circle cx="1098.59" cy="707.27" r="2.6" fill="#000"/>
<path d="M1144.11 764V828.57M1144.11 892.12V942.4M1138.61 764h11M1138.61 942.4h11" stroke="#484848" stroke-width="1.25" fill="none"/>
<rect x="1133.66" y="828.57" width="20.9" height="63.55" fill="#d4d4d4" stroke="#3c3c3c" stroke-width="1.3"/>
<rect x="1134.81" y="829.72" width="18.6" height="61.25" fill="none" stroke="#f6f6f6" stroke-width="1"/>
<path d="M1134.26 864.26h19.7" stroke="#f0f0f0" stroke-width="2.7"/>
<path d="M1133.66 864.26h20.9" stroke="#464646" stroke-width="1.3"/>
<circle cx="1144.3" cy="725.4" r="2.6" fill="#000"/>
<path d="M1169.76 784.02V831.03M1169.76 896.18V940.4M1164.26 784.02h11M1164.26 940.4h11" stroke="#484848" stroke-width="1.25" fill="none"/>
<rect x="1159.31" y="831.03" width="20.9" height="65.15" fill="#626262" stroke="#363636" stroke-width="1.3"/>
<path d="M1159.31 867.31h20.9" stroke="#2c2c2c" stroke-width="1.4"/>
<circle cx="1169.87" cy="731.5" r="2.6" fill="#000"/>
<path d="M1215.18 784.02V832.63M1215.18 895.31V940.4M1209.68 784.02h11M1209.68 940.4h11" stroke="#484848" stroke-width="1.25" fill="none"/>
<rect x="1204.73" y="832.63" width="20.9" height="62.68" fill="#d4d4d4" stroke="#3c3c3c" stroke-width="1.3"/>
<rect x="1205.88" y="833.78" width="18.6" height="60.38" fill="none" stroke="#f6f6f6" stroke-width="1"/>
<path d="M1205.33 865.57h19.7" stroke="#f0f0f0" stroke-width="2.7"/>
<path d="M1204.73 865.57h20.9" stroke="#464646" stroke-width="1.3"/>
<circle cx="1215.43" cy="731.5" r="2.6" fill="#000"/>
<path d="M1240.83 771.54V829.29M1240.83 891.39V935.7M1235.33 771.54h11M1235.33 935.7h11" stroke="#484848" stroke-width="1.25" fill="none"/>
<rect x="1230.38" y="829.29" width="20.9" height="62.1" fill="#626262" stroke="#363636" stroke-width="1.3"/>
<path d="M1230.38 862.81h20.9" stroke="#2c2c2c" stroke-width="1.4"/>
<path d="M1286.25 759.07V831.47M1286.25 890.38V922.4M1280.75 759.07h11M1280.75 922.4h11" stroke="#484848" stroke-width="1.25" fill="none"/>
<rect x="1275.8" y="831.47" width="20.9" height="58.91" fill="#d4d4d4" stroke="#3c3c3c" stroke-width="1.3"/>
<rect x="1276.95" y="832.62" width="18.6" height="56.61" fill="none" stroke="#f6f6f6" stroke-width="1"/>
<path d="M1276.4 866.58h19.7" stroke="#f0f0f0" stroke-width="2.7"/>
<path d="M1275.8 866.58h20.9" stroke="#464646" stroke-width="1.3"/>
<circle cx="1286.67" cy="740.35" r="2.6" fill="#000"/>
<path d="M1311.9 782.28V837.42M1311.9 897.49V931.4M1306.4 782.28h11M1306.4 931.4h11" stroke="#484848" stroke-width="1.25" fill="none"/>
<rect x="1301.45" y="837.42" width="20.9" height="60.07" fill="#626262" stroke="#363636" stroke-width="1.3"/>
<path d="M1301.45 867.31h20.9" stroke="#2c2c2c" stroke-width="1.4"/>
<circle cx="1312.06" cy="713.94" r="2.6" fill="#000"/>
<path d="M1357.32 771.54V835.53M1357.32 897.49V931.4M1351.82 771.54h11M1351.82 931.4h11" stroke="#484848" stroke-width="1.25" fill="none"/>
<rect x="1346.87" y="835.53" width="20.9" height="61.96" fill="#d4d4d4" stroke="#3c3c3c" stroke-width="1.3"/>
<rect x="1348.02" y="836.68" width="18.6" height="59.66" fill="none" stroke="#f6f6f6" stroke-width="1"/>
<path d="M1347.47 864.26h19.7" stroke="#f0f0f0" stroke-width="2.7"/>
<path d="M1346.87 864.26h20.9" stroke="#464646" stroke-width="1.3"/>
<circle cx="1357.48" cy="713.94" r="2.6" fill="#000"/>
<path d="M1382.97 740.35V831.47M1382.97 894.59V927M1377.47 740.35h11M1377.47 927h11" stroke="#484848" stroke-width="1.25" fill="none"/>
<rect x="1372.52" y="831.47" width="20.9" height="63.12" fill="#626262" stroke="#363636" stroke-width="1.3"/>
<path d="M1372.52 866.29h20.9" stroke="#2c2c2c" stroke-width="1.4"/>
<circle cx="1383.3" cy="707.27" r="2.6" fill="#000"/>
<path d="M909.1 666.85V1001.55" stroke="#000" stroke-width="3.5"/>
<path d="M895.1 999.8H1407.1" stroke="#000" stroke-width="3.5"/>
<path d="M895.1 668.5H909.1" stroke="#000" stroke-width="3.3"/>
<text x="891.7" y="678.1" font-size="25.3" text-anchor="end" font-weight="bold">10</text>
<path d="M895.1 734.76H909.1" stroke="#000" stroke-width="3.3"/>
<text x="891.7" y="744.36" font-size="25.3" text-anchor="end" font-weight="bold">8</text>
<path d="M895.1 801.02H909.1" stroke="#000" stroke-width="3.3"/>
<text x="891.7" y="810.62" font-size="25.3" text-anchor="end" font-weight="bold">6</text>
<path d="M895.1 867.28H909.1" stroke="#000" stroke-width="3.3"/>
<text x="891.7" y="876.88" font-size="25.3" text-anchor="end" font-weight="bold">4</text>
<path d="M895.1 933.54H909.1" stroke="#000" stroke-width="3.3"/>
<text x="891.7" y="943.14" font-size="25.3" text-anchor="end" font-weight="bold">2</text>
<text x="891.7" y="1009.4" font-size="25.3" text-anchor="end" font-weight="bold">0</text>
<path d="M943.65 999.8V1013.8" stroke="#000" stroke-width="3.3"/>
<text transform="translate(952.35 1036.05) rotate(-45)" font-size="25.1" text-anchor="end" font-weight="bold">Post proc.</text>
<path d="M1014.72 999.8V1013.8" stroke="#000" stroke-width="3.3"/>
<text transform="translate(1023.42 1036.05) rotate(-45)" font-size="25.1" text-anchor="end" font-weight="bold">LPVs</text>
<path d="M1085.79 999.8V1013.8" stroke="#000" stroke-width="3.3"/>
<text transform="translate(1094.49 1036.05) rotate(-45)" font-size="25.1" text-anchor="end" font-weight="bold">RPVs</text>
<path d="M1156.86 999.8V1013.8" stroke="#000" stroke-width="3.3"/>
<text transform="translate(1165.56 1036.05) rotate(-45)" font-size="25.1" text-anchor="end" font-weight="bold">LSPV</text>
<path d="M1227.93 999.8V1013.8" stroke="#000" stroke-width="3.3"/>
<text transform="translate(1236.63 1036.05) rotate(-45)" font-size="25.1" text-anchor="end" font-weight="bold">LIPV</text>
<path d="M1299 999.8V1013.8" stroke="#000" stroke-width="3.3"/>
<text transform="translate(1307.7 1036.05) rotate(-45)" font-size="25.1" text-anchor="end" font-weight="bold">RSPV</text>
<path d="M1370.07 999.8V1013.8" stroke="#000" stroke-width="3.3"/>
<text transform="translate(1378.77 1036.05) rotate(-45)" font-size="25.1" text-anchor="end" font-weight="bold">RIPV</text>
<text transform="translate(850.5 834.15) rotate(-90)" font-size="25" text-anchor="middle" font-weight="bold">mV*ms</text>
<text x="1157.6" y="639" font-size="50.5" text-anchor="middle" font-weight="bold">Area</text>
<text x="744.6" y="614.5" font-size="45.5" style="font-family:'Liberation Sans',sans-serif;fill:#231f20" font-weight="bold">D</text>
</g>
<g id="panelE">
<path d="M160.2 1312.44V1419.03M160.2 1518.47V1567.88M154.7 1312.44h11M154.7 1567.88h11" stroke="#484848" stroke-width="1.25" fill="none"/>
<rect x="149.75" y="1419.03" width="20.9" height="99.44" fill="#d4d4d4" stroke="#3c3c3c" stroke-width="1.3"/>
<rect x="150.9" y="1420.18" width="18.6" height="97.14" fill="none" stroke="#f6f6f6" stroke-width="1"/>
<path d="M150.35 1493.61h19.7" stroke="#f0f0f0" stroke-width="2.7"/>
<path d="M149.75 1493.61h20.9" stroke="#464646" stroke-width="1.3"/>
<circle cx="160.35" cy="1269.08" r="2.6" fill="#000"/>
<path d="M185.85 1359.2V1459.11M185.85 1530.9V1568.97M180.35 1359.2h11M180.35 1568.97h11" stroke="#484848" stroke-width="1.25" fill="none"/>
<rect x="175.4" y="1459.11" width="20.9" height="71.79" fill="#626262" stroke="#363636" stroke-width="1.3"/>
<path d="M175.4 1488.64h20.9" stroke="#2c2c2c" stroke-width="1.4"/>
<circle cx="185.99" cy="1311.5" r="2.6" fill="#000"/>
<circle cx="185.99" cy="1328.13" r="2.6" fill="#000"/>
<path d="M231.27 1312.44V1420.89M231.27 1516.14V1567.88M225.77 1312.44h11M225.77 1567.88h11" stroke="#484848" stroke-width="1.25" fill="none"/>
<rect x="220.82" y="1420.89" width="20.9" height="95.25" fill="#d4d4d4" stroke="#3c3c3c" stroke-width="1.3"/>
<rect x="221.97" y="1422.04" width="18.6" height="92.95" fill="none" stroke="#f6f6f6" stroke-width="1"/>
<path d="M221.42 1493.3h19.7" stroke="#f0f0f0" stroke-width="2.7"/>
<path d="M220.82 1493.3h20.9" stroke="#464646" stroke-width="1.3"/>
<circle cx="231.52" cy="1269.08" r="2.6" fill="#000"/>
<path d="M256.92 1318.5V1436.43M256.92 1523.44V1570.68M251.42 1318.5h11M251.42 1570.68h11" stroke="#484848" stroke-width="1.25" fill="none"/>
<rect x="246.47" y="1436.43" width="20.9" height="87.01" fill="#626262" stroke="#363636" stroke-width="1.3"/>
<path d="M246.47 1490.19h20.9" stroke="#2c2c2c" stroke-width="1.4"/>
<path d="M302.34 1318.5V1435.5M302.34 1524.06V1570.68M296.84 1318.5h11M296.84 1570.68h11" stroke="#484848" stroke-width="1.25" fill="none"/>
<rect x="291.89" y="1435.5" width="20.9" height="88.57" fill="#d4d4d4" stroke="#3c3c3c" stroke-width="1.3"/>
<rect x="293.04" y="1436.65" width="18.6" height="86.27" fill="none" stroke="#f6f6f6" stroke-width="1"/>
<path d="M292.49 1489.26h19.7" stroke="#f0f0f0" stroke-width="2.7"/>
<path d="M291.89 1489.26h20.9" stroke="#464646" stroke-width="1.3"/>
<path d="M327.99 1359.2V1456.32M327.99 1533.39V1570.37M322.49 1359.2h11M322.49 1570.37h11" stroke="#484848" stroke-width="1.25" fill="none"/>
<rect x="317.54" y="1456.32" width="20.9" height="77.07" fill="#626262" stroke="#363636" stroke-width="1.3"/>
<path d="M317.54 1493.61h20.9" stroke="#2c2c2c" stroke-width="1.4"/>
<circle cx="324.44" cy="1318.03" r="2.6" fill="#000"/>
<circle cx="331.74" cy="1318.03" r="2.6" fill="#000"/>
<path d="M373.41 1313.06V1422.91M373.41 1511.94V1569.75M367.91 1313.06h11M367.91 1569.75h11" stroke="#484848" stroke-width="1.25" fill="none"/>
<rect x="362.96" y="1422.91" width="20.9" height="89.03" fill="#d4d4d4" stroke="#3c3c3c" stroke-width="1.3"/>
<rect x="364.11" y="1424.06" width="18.6" height="86.73" fill="none" stroke="#f6f6f6" stroke-width="1"/>
<path d="M363.56 1493.3h19.7" stroke="#f0f0f0" stroke-width="2.7"/>
<path d="M362.96 1493.3h20.9" stroke="#464646" stroke-width="1.3"/>
<circle cx="373.85" cy="1269.08" r="2.6" fill="#000"/>
<path d="M399.06 1318.5V1436.43M399.06 1521.27V1570.52M393.56 1318.5h11M393.56 1570.52h11" stroke="#484848" stroke-width="1.25" fill="none"/>
<rect x="388.61" y="1436.43" width="20.9" height="84.84" fill="#626262" stroke="#363636" stroke-width="1.3"/>
<path d="M388.61 1480.87h20.9" stroke="#2c2c2c" stroke-width="1.4"/>
<path d="M444.48 1312.44V1437.67M444.48 1521.27V1567.73M438.98 1312.44h11M438.98 1567.73h11" stroke="#484848" stroke-width="1.25" fill="none"/>
<rect x="434.03" y="1437.67" width="20.9" height="83.59" fill="#d4d4d4" stroke="#3c3c3c" stroke-width="1.3"/>
<rect x="435.18" y="1438.82" width="18.6" height="81.29" fill="none" stroke="#f6f6f6" stroke-width="1"/>
<path d="M434.63 1480.87h19.7" stroke="#f0f0f0" stroke-width="2.7"/>
<path d="M434.03 1480.87h20.9" stroke="#464646" stroke-width="1.3"/>
<path d="M470.13 1313.21V1437.36M470.13 1522.82V1569.75M464.63 1313.21h11M464.63 1569.75h11" stroke="#484848" stroke-width="1.25" fill="none"/>
<rect x="459.68" y="1437.36" width="20.9" height="85.46" fill="#626262" stroke="#363636" stroke-width="1.3"/>
<path d="M459.68 1488.64h20.9" stroke="#2c2c2c" stroke-width="1.4"/>
<path d="M515.55 1318.5V1438.76M515.55 1526.24V1570.52M510.05 1318.5h11M510.05 1570.52h11" stroke="#484848" stroke-width="1.25" fill="none"/>
<rect x="505.1" y="1438.76" width="20.9" height="87.48" fill="#d4d4d4" stroke="#3c3c3c" stroke-width="1.3"/>
<rect x="506.25" y="1439.91" width="18.6" height="85.18" fill="none" stroke="#f6f6f6" stroke-width="1"/>
<path d="M505.7 1487.7h19.7" stroke="#f0f0f0" stroke-width="2.7"/>
<path d="M505.1 1487.7h20.9" stroke="#464646" stroke-width="1.3"/>
<path d="M541.2 1359.2V1449.02M541.2 1527.48V1569.75M535.7 1359.2h11M535.7 1569.75h11" stroke="#484848" stroke-width="1.25" fill="none"/>
<rect x="530.75" y="1449.02" width="20.9" height="78.47" fill="#626262" stroke="#363636" stroke-width="1.3"/>
<path d="M530.75 1490.5h20.9" stroke="#2c2c2c" stroke-width="1.4"/>
<circle cx="541.47" cy="1304.2" r="2.6" fill="#000"/>
<circle cx="541.47" cy="1319.89" r="2.6" fill="#000"/>
<path d="M586.62 1355.32V1448.24M586.62 1528.26V1569.75M581.12 1355.32h11M581.12 1569.75h11" stroke="#484848" stroke-width="1.25" fill="none"/>
<rect x="576.17" y="1448.24" width="20.9" height="80.02" fill="#d4d4d4" stroke="#3c3c3c" stroke-width="1.3"/>
<rect x="577.32" y="1449.39" width="18.6" height="77.72" fill="none" stroke="#f6f6f6" stroke-width="1"/>
<path d="M576.77 1489.26h19.7" stroke="#f0f0f0" stroke-width="2.7"/>
<path d="M576.17 1489.26h20.9" stroke="#464646" stroke-width="1.3"/>
<circle cx="586.84" cy="1304.2" r="2.6" fill="#000"/>
<circle cx="586.84" cy="1319.89" r="2.6" fill="#000"/>
<path d="M612.27 1379.09V1453.99M612.27 1527.48V1570.21M606.77 1379.09h11M606.77 1570.21h11" stroke="#484848" stroke-width="1.25" fill="none"/>
<rect x="601.82" y="1453.99" width="20.9" height="73.5" fill="#626262" stroke="#363636" stroke-width="1.3"/>
<path d="M601.82 1494.39h20.9" stroke="#2c2c2c" stroke-width="1.4"/>
<circle cx="608.9" cy="1318.03" r="2.6" fill="#000"/>
<circle cx="616.05" cy="1318.03" r="2.6" fill="#000"/>
<path d="M148.5 1260.8V1264.4H197.6V1260.8" stroke="#4a4a4a" stroke-width="1.2" fill="none"/>
<text transform="translate(173.39 1255.7) scale(0.915 1)" font-size="17.8" text-anchor="middle" letter-spacing="2.7" font-weight="bold" style="font-family:'DejaVu Sans',sans-serif">**</text>
<path d="M220.3 1260.8V1264.4H268.7V1260.8" stroke="#4a4a4a" stroke-width="1.2" fill="none"/>
<text transform="translate(244.84 1255.7) scale(0.915 1)" font-size="17.8" text-anchor="middle" letter-spacing="2.7" font-weight="bold" style="font-family:'DejaVu Sans',sans-serif">**</text>
<path d="M138.3 1239.25V1574.85" stroke="#000" stroke-width="3.5"/>
<path d="M124.3 1573.1H636.3" stroke="#000" stroke-width="3.5"/>
<path d="M124.3 1240.9H138.3" stroke="#000" stroke-width="3.3"/>
<text x="120.9" y="1250.5" font-size="25.3" text-anchor="end" font-weight="bold">10</text>
<path d="M124.3 1307.34H138.3" stroke="#000" stroke-width="3.3"/>
<text x="120.9" y="1316.94" font-size="25.3" text-anchor="end" font-weight="bold">8</text>
<path d="M124.3 1373.78H138.3" stroke="#000" stroke-width="3.3"/>
<text x="120.9" y="1383.38" font-size="25.3" text-anchor="end" font-weight="bold">6</text>
<path d="M124.3 1440.22H138.3" stroke="#000" stroke-width="3.3"/>
<text x="120.9" y="1449.82" font-size="25.3" text-anchor="end" font-weight="bold">4</text>
<path d="M124.3 1506.66H138.3" stroke="#000" stroke-width="3.3"/>
<text x="120.9" y="1516.26" font-size="25.3" text-anchor="end" font-weight="bold">2</text>
<text x="120.9" y="1582.7" font-size="25.3" text-anchor="end" font-weight="bold">0</text>
<path d="M172.95 1573.1V1587.1" stroke="#000" stroke-width="3.3"/>
<text transform="translate(181.65 1609.35) rotate(-45)" font-size="25.1" text-anchor="end" font-weight="bold">Post proc.</text>
<path d="M244.02 1573.1V1587.1" stroke="#000" stroke-width="3.3"/>
<text transform="translate(252.72 1609.35) rotate(-45)" font-size="25.1" text-anchor="end" font-weight="bold">LPVs</text>
<path d="M315.09 1573.1V1587.1" stroke="#000" stroke-width="3.3"/>
<text transform="translate(323.79 1609.35) rotate(-45)" font-size="25.1" text-anchor="end" font-weight="bold">RPVs</text>
<path d="M386.16 1573.1V1587.1" stroke="#000" stroke-width="3.3"/>
<text transform="translate(394.86 1609.35) rotate(-45)" font-size="25.1" text-anchor="end" font-weight="bold">LSPV</text>
<path d="M457.23 1573.1V1587.1" stroke="#000" stroke-width="3.3"/>
<text transform="translate(465.93 1609.35) rotate(-45)" font-size="25.1" text-anchor="end" font-weight="bold">LIPV</text>
<path d="M528.3 1573.1V1587.1" stroke="#000" stroke-width="3.3"/>
<text transform="translate(537 1609.35) rotate(-45)" font-size="25.1" text-anchor="end" font-weight="bold">RSPV</text>
<path d="M599.37 1573.1V1587.1" stroke="#000" stroke-width="3.3"/>
<text transform="translate(608.07 1609.35) rotate(-45)" font-size="25.1" text-anchor="end" font-weight="bold">RIPV</text>
<text transform="translate(81 1407) rotate(-90)" font-size="25" text-anchor="middle" font-weight="bold">mV*ms</text>
<text x="386.8" y="1212" font-size="50.5" text-anchor="middle" font-weight="bold">Terminal Force</text>
<text x="2.5" y="1172.6" font-size="45.5" style="font-family:'Liberation Sans',sans-serif;fill:#231f20" font-weight="bold">E</text>
</g>
<g id="panelF">
<path d="M930.2 1283.31V1362.09M930.2 1450.31V1482.09M924.7 1283.31h11M924.7 1482.09h11" stroke="#484848" stroke-width="1.25" fill="none"/>
<rect x="919.75" y="1362.09" width="20.9" height="88.22" fill="#d4d4d4" stroke="#3c3c3c" stroke-width="1.3"/>
<rect x="920.9" y="1363.24" width="18.6" height="85.92" fill="none" stroke="#f6f6f6" stroke-width="1"/>
<path d="M920.35 1413.31h19.7" stroke="#f0f0f0" stroke-width="2.7"/>
<path d="M919.75 1413.31h20.9" stroke="#464646" stroke-width="1.3"/>
<path d="M955.85 1309.86V1395.61M955.85 1457.71V1494.71M950.35 1309.86h11M950.35 1494.71h11" stroke="#484848" stroke-width="1.25" fill="none"/>
<rect x="945.4" y="1395.61" width="20.9" height="62.1" fill="#626262" stroke="#363636" stroke-width="1.3"/>
<path d="M945.4 1427.1h20.9" stroke="#2c2c2c" stroke-width="1.4"/>
<path d="M1001.27 1279.39V1373.26M1001.27 1452.2V1482.09M995.77 1279.39h11M995.77 1482.09h11" stroke="#484848" stroke-width="1.25" fill="none"/>
<rect x="990.82" y="1373.26" width="20.9" height="78.93" fill="#d4d4d4" stroke="#3c3c3c" stroke-width="1.3"/>
<rect x="991.97" y="1374.41" width="18.6" height="76.63" fill="none" stroke="#f6f6f6" stroke-width="1"/>
<path d="M991.42 1413.31h19.7" stroke="#f0f0f0" stroke-width="2.7"/>
<path d="M990.82 1413.31h20.9" stroke="#464646" stroke-width="1.3"/>
<path d="M1026.92 1328.72V1396.33M1026.92 1447.41V1498.48M1021.42 1328.72h11M1021.42 1498.48h11" stroke="#484848" stroke-width="1.25" fill="none"/>
<rect x="1016.47" y="1396.33" width="20.9" height="51.07" fill="#626262" stroke="#363636" stroke-width="1.3"/>
<path d="M1016.47 1424.63h20.9" stroke="#2c2c2c" stroke-width="1.4"/>
<circle cx="1026.77" cy="1264.15" r="2.6" fill="#000"/>
<circle cx="1026.77" cy="1302.75" r="2.6" fill="#000"/>
<circle cx="1026.77" cy="1309.86" r="2.6" fill="#000"/>
<path d="M1072.34 1320.74V1396.33M1072.34 1448.86V1498.48M1066.84 1320.74h11M1066.84 1498.48h11" stroke="#484848" stroke-width="1.25" fill="none"/>
<rect x="1061.89" y="1396.33" width="20.9" height="52.52" fill="#d4d4d4" stroke="#3c3c3c" stroke-width="1.3"/>
<rect x="1063.04" y="1397.48" width="18.6" height="50.22" fill="none" stroke="#f6f6f6" stroke-width="1"/>
<path d="M1062.49 1424.63h19.7" stroke="#f0f0f0" stroke-width="2.7"/>
<path d="M1061.89 1424.63h20.9" stroke="#464646" stroke-width="1.3"/>
<circle cx="1072.33" cy="1264.15" r="2.6" fill="#000"/>
<circle cx="1072.33" cy="1302.75" r="2.6" fill="#000"/>
<path d="M1097.99 1328.72V1393M1097.99 1459.74V1490.21M1092.49 1328.72h11M1092.49 1490.21h11" stroke="#484848" stroke-width="1.25" fill="none"/>
<rect x="1087.54" y="1393" width="20.9" height="66.74" fill="#626262" stroke="#363636" stroke-width="1.3"/>
<path d="M1087.54 1426.37h20.9" stroke="#2c2c2c" stroke-width="1.4"/>
<circle cx="1098.01" cy="1279.53" r="2.6" fill="#000"/>
<path d="M1143.41 1279.39V1379.65M1143.41 1451.04V1486.15M1137.91 1279.39h11M1137.91 1486.15h11" stroke="#484848" stroke-width="1.25" fill="none"/>
<rect x="1132.96" y="1379.65" width="20.9" height="71.39" fill="#d4d4d4" stroke="#3c3c3c" stroke-width="1.3"/>
<rect x="1134.11" y="1380.8" width="18.6" height="69.09" fill="none" stroke="#f6f6f6" stroke-width="1"/>
<path d="M1133.56 1419.41h19.7" stroke="#f0f0f0" stroke-width="2.7"/>
<path d="M1132.96 1419.41h20.9" stroke="#464646" stroke-width="1.3"/>
<path d="M1169.06 1347.44V1400.25M1169.06 1445.52V1486.15M1163.56 1347.44h11M1163.56 1486.15h11" stroke="#484848" stroke-width="1.25" fill="none"/>
<rect x="1158.61" y="1400.25" width="20.9" height="45.27" fill="#626262" stroke="#363636" stroke-width="1.3"/>
<path d="M1158.61 1422.31h20.9" stroke="#2c2c2c" stroke-width="1.4"/>
<circle cx="1169.14" cy="1275.76" r="2.6" fill="#000"/>
<circle cx="1165.8" cy="1302.75" r="2.6" fill="#000"/>
<circle cx="1172.62" cy="1302.75" r="2.6" fill="#000"/>
<circle cx="1169.14" cy="1313.2" r="2.6" fill="#000"/>
<path d="M1214.48 1347.44V1406.06M1214.48 1449.59V1486.15M1208.98 1347.44h11M1208.98 1486.15h11" stroke="#484848" stroke-width="1.25" fill="none"/>
<rect x="1204.03" y="1406.06" width="20.9" height="43.53" fill="#d4d4d4" stroke="#3c3c3c" stroke-width="1.3"/>
<rect x="1205.18" y="1407.21" width="18.6" height="41.23" fill="none" stroke="#f6f6f6" stroke-width="1"/>
<path d="M1204.63 1422.31h19.7" stroke="#f0f0f0" stroke-width="2.7"/>
<path d="M1204.03 1422.31h20.9" stroke="#464646" stroke-width="1.3"/>
<circle cx="1214.7" cy="1275.76" r="2.6" fill="#000"/>
<circle cx="1214.7" cy="1283.45" r="2.6" fill="#000"/>
<circle cx="1207.88" cy="1302.75" r="2.6" fill="#000"/>
<circle cx="1214.7" cy="1302.75" r="2.6" fill="#000"/>
<circle cx="1221.52" cy="1302.75" r="2.6" fill="#000"/>
<circle cx="1214.7" cy="1313.2" r="2.6" fill="#000"/>
<path d="M1240.13 1332.06V1401.99M1240.13 1448.57V1498.48M1234.63 1332.06h11M1234.63 1498.48h11" stroke="#484848" stroke-width="1.25" fill="none"/>
<rect x="1229.68" y="1401.99" width="20.9" height="46.58" fill="#626262" stroke="#363636" stroke-width="1.3"/>
<path d="M1229.68 1431.88h20.9" stroke="#2c2c2c" stroke-width="1.4"/>
<circle cx="1240.38" cy="1264.15" r="2.6" fill="#000"/>
<circle cx="1240.38" cy="1302.75" r="2.6" fill="#000"/>
<circle cx="1240.38" cy="1309.86" r="2.6" fill="#000"/>
<circle cx="1240.38" cy="1328.72" r="2.6" fill="#000"/>
<path d="M1285.55 1320.74V1399.53M1285.55 1453.21V1494.71M1280.05 1320.74h11M1280.05 1494.71h11" stroke="#484848" stroke-width="1.25" fill="none"/>
<rect x="1275.1" y="1399.53" width="20.9" height="53.69" fill="#d4d4d4" stroke="#3c3c3c" stroke-width="1.3"/>
<rect x="1276.25" y="1400.68" width="18.6" height="51.39" fill="none" stroke="#f6f6f6" stroke-width="1"/>
<path d="M1275.7 1429.56h19.7" stroke="#f0f0f0" stroke-width="2.7"/>
<path d="M1275.1 1429.56h20.9" stroke="#464646" stroke-width="1.3"/>
<circle cx="1285.94" cy="1302.75" r="2.6" fill="#000"/>
<path d="M1311.2 1328.72V1396.33M1311.2 1463.08V1490.21M1305.7 1328.72h11M1305.7 1490.21h11" stroke="#484848" stroke-width="1.25" fill="none"/>
<rect x="1300.75" y="1396.33" width="20.9" height="66.74" fill="#626262" stroke="#363636" stroke-width="1.3"/>
<path d="M1300.75 1426.37h20.9" stroke="#2c2c2c" stroke-width="1.4"/>
<circle cx="1311.33" cy="1279.53" r="2.6" fill="#000"/>
<path d="M1356.62 1320.74V1396.33M1356.62 1453.21V1490.21M1351.12 1320.74h11M1351.12 1490.21h11" stroke="#484848" stroke-width="1.25" fill="none"/>
<rect x="1346.17" y="1396.33" width="20.9" height="56.88" fill="#d4d4d4" stroke="#3c3c3c" stroke-width="1.3"/>
<rect x="1347.32" y="1397.48" width="18.6" height="54.58" fill="none" stroke="#f6f6f6" stroke-width="1"/>
<path d="M1346.77 1429.56h19.7" stroke="#f0f0f0" stroke-width="2.7"/>
<path d="M1346.17 1429.56h20.9" stroke="#464646" stroke-width="1.3"/>
<circle cx="1356.75" cy="1264.15" r="2.6" fill="#000"/>
<path d="M1382.27 1320.74V1396.33M1382.27 1452.92V1494.71M1376.77 1320.74h11M1376.77 1494.71h11" stroke="#484848" stroke-width="1.25" fill="none"/>
<rect x="1371.82" y="1396.33" width="20.9" height="56.59" fill="#626262" stroke="#363636" stroke-width="1.3"/>
<path d="M1371.82 1429.56h20.9" stroke="#2c2c2c" stroke-width="1.4"/>
<path d="M918.4 1255.9V1259.5H967.6V1255.9" stroke="#4a4a4a" stroke-width="1.2" fill="none"/>
<text transform="translate(943.34 1250.8) scale(0.915 1)" font-size="17.8" text-anchor="middle" letter-spacing="2.7" font-weight="bold" style="font-family:'DejaVu Sans',sans-serif">***</text>
<path d="M989.8 1255.9V1259.5H1038.7V1255.9" stroke="#4a4a4a" stroke-width="1.2" fill="none"/>
<text transform="translate(1014.59 1250.8) scale(0.915 1)" font-size="17.8" text-anchor="middle" letter-spacing="2.7" font-weight="bold" style="font-family:'DejaVu Sans',sans-serif">**</text>
<path d="M1133.6 1255.9V1259.5H1181.8V1255.9" stroke="#4a4a4a" stroke-width="1.2" fill="none"/>
<text transform="translate(1158.04 1250.8) scale(0.915 1)" font-size="17.8" text-anchor="middle" letter-spacing="2.7" font-weight="bold" style="font-family:'DejaVu Sans',sans-serif">*</text>
<path d="M908.2 1239.25V1574.95" stroke="#000" stroke-width="3.5"/>
<path d="M894.2 1573.2H1406.2" stroke="#000" stroke-width="3.5"/>
<path d="M894.2 1240.9H908.2" stroke="#000" stroke-width="3.3"/>
<text x="890.8" y="1250.5" font-size="25.3" text-anchor="end" font-weight="bold">4</text>
<path d="M894.2 1323.98H908.2" stroke="#000" stroke-width="3.3"/>
<text x="890.8" y="1333.58" font-size="25.3" text-anchor="end" font-weight="bold">3</text>
<path d="M894.2 1407.05H908.2" stroke="#000" stroke-width="3.3"/>
<text x="890.8" y="1416.65" font-size="25.3" text-anchor="end" font-weight="bold">2</text>
<path d="M894.2 1490.12H908.2" stroke="#000" stroke-width="3.3"/>
<text x="890.8" y="1499.72" font-size="25.3" text-anchor="end" font-weight="bold">1</text>
<text x="890.8" y="1582.8" font-size="25.3" text-anchor="end" font-weight="bold">0</text>
<path d="M942.95 1573.2V1587.2" stroke="#000" stroke-width="3.3"/>
<text transform="translate(951.65 1609.45) rotate(-45)" font-size="25.1" text-anchor="end" font-weight="bold">Post proc.</text>
<path d="M1014.02 1573.2V1587.2" stroke="#000" stroke-width="3.3"/>
<text transform="translate(1022.72 1609.45) rotate(-45)" font-size="25.1" text-anchor="end" font-weight="bold">LPVs</text>
<path d="M1085.09 1573.2V1587.2" stroke="#000" stroke-width="3.3"/>
<text transform="translate(1093.79 1609.45) rotate(-45)" font-size="25.1" text-anchor="end" font-weight="bold">RPVs</text>
<path d="M1156.16 1573.2V1587.2" stroke="#000" stroke-width="3.3"/>
<text transform="translate(1164.86 1609.45) rotate(-45)" font-size="25.1" text-anchor="end" font-weight="bold">LSPV</text>
<path d="M1227.23 1573.2V1587.2" stroke="#000" stroke-width="3.3"/>
<text transform="translate(1235.93 1609.45) rotate(-45)" font-size="25.1" text-anchor="end" font-weight="bold">LIPV</text>
<path d="M1298.3 1573.2V1587.2" stroke="#000" stroke-width="3.3"/>
<text transform="translate(1307 1609.45) rotate(-45)" font-size="25.1" text-anchor="end" font-weight="bold">RSPV</text>
<path d="M1369.37 1573.2V1587.2" stroke="#000" stroke-width="3.3"/>
<text transform="translate(1378.07 1609.45) rotate(-45)" font-size="25.1" text-anchor="end" font-weight="bold">RIPV</text>
<text transform="translate(862.5 1407.05) rotate(-90)" font-size="25" text-anchor="middle" font-weight="bold">Number</text>
<text x="1156.7" y="1212" font-size="50.5" text-anchor="middle" font-weight="bold">Complexity</text>
<text x="744.6" y="1172.6" font-size="45.5" style="font-family:'Liberation Sans',sans-serif;fill:#231f20" font-weight="bold">F</text>
</g>
<g id="panelG">
<path d="M166.6 1894.57V1940.99M166.6 1980.78V2040.45M161.1 1894.57h11M161.1 2040.45h11" stroke="#484848" stroke-width="1.25" fill="none"/>
<rect x="156.15" y="1940.99" width="20.9" height="39.79" fill="#d4d4d4" stroke="#3c3c3c" stroke-width="1.3"/>
<rect x="157.3" y="1942.14" width="18.6" height="37.49" fill="none" stroke="#f6f6f6" stroke-width="1"/>
<path d="M156.75 1960.88h19.7" stroke="#f0f0f0" stroke-width="2.7"/>
<path d="M156.15 1960.88h20.9" stroke="#464646" stroke-width="1.3"/>
<path d="M192.25 1881.31V1934.36M192.25 1987.41V2066.98M186.75 1881.31h11M186.75 2066.98h11" stroke="#484848" stroke-width="1.25" fill="none"/>
<rect x="181.8" y="1934.36" width="20.9" height="53.05" fill="#626262" stroke="#363636" stroke-width="1.3"/>
<path d="M181.8 1960.88h20.9" stroke="#2c2c2c" stroke-width="1.4"/>
<path d="M237.67 1894.57V1940.99M237.67 1980.78V2040.45M232.17 1894.57h11M232.17 2040.45h11" stroke="#484848" stroke-width="1.25" fill="none"/>
<rect x="227.22" y="1940.99" width="20.9" height="39.79" fill="#d4d4d4" stroke="#3c3c3c" stroke-width="1.3"/>
<rect x="228.37" y="1942.14" width="18.6" height="37.49" fill="none" stroke="#f6f6f6" stroke-width="1"/>
<path d="M227.82 1957.57h19.7" stroke="#f0f0f0" stroke-width="2.7"/>
<path d="M227.22 1957.57h20.9" stroke="#464646" stroke-width="1.3"/>
<path d="M263.32 1894.57V1927.73M263.32 1979.12V2047.08M257.82 1894.57h11M257.82 2047.08h11" stroke="#484848" stroke-width="1.25" fill="none"/>
<rect x="252.87" y="1927.73" width="20.9" height="51.39" fill="#626262" stroke="#363636" stroke-width="1.3"/>
<path d="M252.87 1947.62h20.9" stroke="#2c2c2c" stroke-width="1.4"/>
<path d="M308.74 1894.57V1927.73M308.74 1980.78V2047.08M303.24 1894.57h11M303.24 2047.08h11" stroke="#484848" stroke-width="1.25" fill="none"/>
<rect x="298.29" y="1927.73" width="20.9" height="53.05" fill="#d4d4d4" stroke="#3c3c3c" stroke-width="1.3"/>
<rect x="299.44" y="1928.88" width="18.6" height="50.75" fill="none" stroke="#f6f6f6" stroke-width="1"/>
<path d="M298.89 1947.62h19.7" stroke="#f0f0f0" stroke-width="2.7"/>
<path d="M298.29 1947.62h20.9" stroke="#464646" stroke-width="1.3"/>
<path d="M334.39 1901.2V1934.36M334.39 1980.78V2047.08M328.89 1901.2h11M328.89 2047.08h11" stroke="#484848" stroke-width="1.25" fill="none"/>
<rect x="323.94" y="1934.36" width="20.9" height="46.42" fill="#626262" stroke="#363636" stroke-width="1.3"/>
<path d="M323.94 1950.94h20.9" stroke="#2c2c2c" stroke-width="1.4"/>
<path d="M379.81 1894.57V1940.99M379.81 1980.78V2040.45M374.31 1894.57h11M374.31 2040.45h11" stroke="#484848" stroke-width="1.25" fill="none"/>
<rect x="369.36" y="1940.99" width="20.9" height="39.79" fill="#d4d4d4" stroke="#3c3c3c" stroke-width="1.3"/>
<rect x="370.51" y="1942.14" width="18.6" height="37.49" fill="none" stroke="#f6f6f6" stroke-width="1"/>
<path d="M369.96 1960.88h19.7" stroke="#f0f0f0" stroke-width="2.7"/>
<path d="M369.36 1960.88h20.9" stroke="#464646" stroke-width="1.3"/>
<path d="M405.46 1894.57V1926.07M405.46 1969.17V2027.19M399.96 1894.57h11M399.96 2027.19h11" stroke="#484848" stroke-width="1.25" fill="none"/>
<rect x="395.01" y="1926.07" width="20.9" height="43.1" fill="#626262" stroke="#363636" stroke-width="1.3"/>
<path d="M395.01 1947.62h20.9" stroke="#2c2c2c" stroke-width="1.4"/>
<circle cx="405.46" cy="2047.08" r="2.6" fill="#000"/>
<path d="M450.88 1894.57V1921.1M450.88 1967.51V2027.19M445.38 1894.57h11M445.38 2027.19h11" stroke="#484848" stroke-width="1.25" fill="none"/>
<rect x="440.43" y="1921.1" width="20.9" height="46.42" fill="#d4d4d4" stroke="#3c3c3c" stroke-width="1.3"/>
<rect x="441.58" y="1922.25" width="18.6" height="44.12" fill="none" stroke="#f6f6f6" stroke-width="1"/>
<path d="M441.03 1947.62h19.7" stroke="#f0f0f0" stroke-width="2.7"/>
<path d="M440.43 1947.62h20.9" stroke="#464646" stroke-width="1.3"/>
<circle cx="450.88" cy="2047.08" r="2.6" fill="#000"/>
<path d="M476.53 1894.57V1927.73M476.53 1980.78V2047.08M471.03 1894.57h11M471.03 2047.08h11" stroke="#484848" stroke-width="1.25" fill="none"/>
<rect x="466.08" y="1927.73" width="20.9" height="53.05" fill="#626262" stroke="#363636" stroke-width="1.3"/>
<path d="M466.08 1950.94h20.9" stroke="#2c2c2c" stroke-width="1.4"/>
<path d="M521.95 1894.57V1927.73M521.95 1980.78V2060.35M516.45 1894.57h11M516.45 2060.35h11" stroke="#484848" stroke-width="1.25" fill="none"/>
<rect x="511.5" y="1927.73" width="20.9" height="53.05" fill="#d4d4d4" stroke="#3c3c3c" stroke-width="1.3"/>
<rect x="512.65" y="1928.88" width="18.6" height="50.75" fill="none" stroke="#f6f6f6" stroke-width="1"/>
<path d="M512.1 1947.62h19.7" stroke="#f0f0f0" stroke-width="2.7"/>
<path d="M511.5 1947.62h20.9" stroke="#464646" stroke-width="1.3"/>
<path d="M547.6 1894.57V1940.99M547.6 1980.78V2027.19M542.1 1894.57h11M542.1 2027.19h11" stroke="#484848" stroke-width="1.25" fill="none"/>
<rect x="537.15" y="1940.99" width="20.9" height="39.79" fill="#626262" stroke="#363636" stroke-width="1.3"/>
<path d="M537.15 1954.25h20.9" stroke="#2c2c2c" stroke-width="1.4"/>
<circle cx="547.6" cy="2073.61" r="2.6" fill="#000"/>
<path d="M593.02 1894.57V1927.73M593.02 1980.78V2047.08M587.52 1894.57h11M587.52 2047.08h11" stroke="#484848" stroke-width="1.25" fill="none"/>
<rect x="582.57" y="1927.73" width="20.9" height="53.05" fill="#d4d4d4" stroke="#3c3c3c" stroke-width="1.3"/>
<rect x="583.72" y="1928.88" width="18.6" height="50.75" fill="none" stroke="#f6f6f6" stroke-width="1"/>
<path d="M583.17 1960.88h19.7" stroke="#f0f0f0" stroke-width="2.7"/>
<path d="M582.57 1960.88h20.9" stroke="#464646" stroke-width="1.3"/>
<circle cx="593.02" cy="2073.61" r="2.6" fill="#000"/>
<path d="M618.67 1894.57V1927.73M618.67 1974.14V2013.93M613.17 1894.57h11M613.17 2013.93h11" stroke="#484848" stroke-width="1.25" fill="none"/>
<rect x="608.22" y="1927.73" width="20.9" height="46.42" fill="#626262" stroke="#363636" stroke-width="1.3"/>
<path d="M608.22 1960.88h20.9" stroke="#2c2c2c" stroke-width="1.4"/>
<circle cx="618.67" cy="2047.08" r="2.6" fill="#000"/>
<circle cx="618.67" cy="2060.35" r="2.6" fill="#000"/>
<path d="M369.7 1833.7V1837.3H418.5V1833.7" stroke="#4a4a4a" stroke-width="1.2" fill="none"/>
<text transform="translate(394.44 1828.6) scale(0.915 1)" font-size="17.8" text-anchor="middle" letter-spacing="2.7" font-weight="bold" style="font-family:'DejaVu Sans',sans-serif">**</text>
<path d="M144.8 1813.35V2148.3" stroke="#000" stroke-width="3.5"/>
<path d="M130.8 2146.55H642.8" stroke="#000" stroke-width="3.5"/>
<path d="M130.8 1815H144.8" stroke="#000" stroke-width="3.3"/>
<text x="127.4" y="1824.6" font-size="25.3" text-anchor="end" font-weight="bold">3.3</text>
<path d="M130.8 1881.31H144.8" stroke="#000" stroke-width="3.3"/>
<text x="127.4" y="1890.91" font-size="25.3" text-anchor="end" font-weight="bold">3.2</text>
<path d="M130.8 1947.62H144.8" stroke="#000" stroke-width="3.3"/>
<text x="127.4" y="1957.22" font-size="25.3" text-anchor="end" font-weight="bold">3.1</text>
<path d="M130.8 2013.93H144.8" stroke="#000" stroke-width="3.3"/>
<text x="127.4" y="2023.53" font-size="25.3" text-anchor="end" font-weight="bold">3.0</text>
<path d="M130.8 2080.24H144.8" stroke="#000" stroke-width="3.3"/>
<text x="127.4" y="2089.84" font-size="25.3" text-anchor="end" font-weight="bold">2.9</text>
<text x="127.4" y="2156.15" font-size="25.3" text-anchor="end" font-weight="bold">2.8</text>
<path d="M179.35 2146.55V2160.55" stroke="#000" stroke-width="3.3"/>
<text transform="translate(188.05 2182.8) rotate(-45)" font-size="25.1" text-anchor="end" font-weight="bold">Post proc.</text>
<path d="M250.42 2146.55V2160.55" stroke="#000" stroke-width="3.3"/>
<text transform="translate(259.12 2182.8) rotate(-45)" font-size="25.1" text-anchor="end" font-weight="bold">LPVs</text>
<path d="M321.49 2146.55V2160.55" stroke="#000" stroke-width="3.3"/>
<text transform="translate(330.19 2182.8) rotate(-45)" font-size="25.1" text-anchor="end" font-weight="bold">RPVs</text>
<path d="M392.56 2146.55V2160.55" stroke="#000" stroke-width="3.3"/>
<text transform="translate(401.26 2182.8) rotate(-45)" font-size="25.1" text-anchor="end" font-weight="bold">LSPV</text>
<path d="M463.63 2146.55V2160.55" stroke="#000" stroke-width="3.3"/>
<text transform="translate(472.33 2182.8) rotate(-45)" font-size="25.1" text-anchor="end" font-weight="bold">LIPV</text>
<path d="M534.7 2146.55V2160.55" stroke="#000" stroke-width="3.3"/>
<text transform="translate(543.4 2182.8) rotate(-45)" font-size="25.1" text-anchor="end" font-weight="bold">RSPV</text>
<path d="M605.77 2146.55V2160.55" stroke="#000" stroke-width="3.3"/>
<text transform="translate(614.47 2182.8) rotate(-45)" font-size="25.1" text-anchor="end" font-weight="bold">RIPV</text>
<text transform="translate(80.4 1980.78) rotate(-90)" font-size="25" text-anchor="middle" font-weight="bold">au</text>
<text x="393.3" y="1785.4" font-size="50.5" text-anchor="middle" font-weight="bold">Shannon Entropy</text>
<text x="2.2" y="1779" font-size="45.5" style="font-family:'Liberation Sans',sans-serif;fill:#231f20" font-weight="bold">G</text>
</g>
<g id="panelH">
<path d="M931.6 1897.9V1955.93M931.6 1997.38V2038.83M926.1 1897.9h11M926.1 2038.83h11" stroke="#484848" stroke-width="1.25" fill="none"/>
<rect x="921.15" y="1955.93" width="20.9" height="41.45" fill="#d4d4d4" stroke="#3c3c3c" stroke-width="1.3"/>
<rect x="922.3" y="1957.08" width="18.6" height="39.15" fill="none" stroke="#f6f6f6" stroke-width="1"/>
<path d="M921.75 1972.51h19.7" stroke="#f0f0f0" stroke-width="2.7"/>
<path d="M921.15 1972.51h20.9" stroke="#464646" stroke-width="1.3"/>
<circle cx="931.6" cy="1889.61" r="2.6" fill="#000"/>
<path d="M957.25 1931.06V1972.51M957.25 2005.67V2047.12M951.75 1931.06h11M951.75 2047.12h11" stroke="#484848" stroke-width="1.25" fill="none"/>
<rect x="946.8" y="1972.51" width="20.9" height="33.16" fill="#626262" stroke="#363636" stroke-width="1.3"/>
<path d="M946.8 1989.09h20.9" stroke="#2c2c2c" stroke-width="1.4"/>
<path d="M1002.67 1897.9V1955.93M1002.67 1997.38V2038.83M997.17 1897.9h11M997.17 2038.83h11" stroke="#484848" stroke-width="1.25" fill="none"/>
<rect x="992.22" y="1955.93" width="20.9" height="41.45" fill="#d4d4d4" stroke="#3c3c3c" stroke-width="1.3"/>
<rect x="993.37" y="1957.08" width="18.6" height="39.15" fill="none" stroke="#f6f6f6" stroke-width="1"/>
<path d="M992.82 1972.51h19.7" stroke="#f0f0f0" stroke-width="2.7"/>
<path d="M992.22 1972.51h20.9" stroke="#464646" stroke-width="1.3"/>
<circle cx="1002.67" cy="1889.61" r="2.6" fill="#000"/>
<path d="M1028.32 1931.06V1972.51M1028.32 2003.6V2038.83M1022.82 1931.06h11M1022.82 2038.83h11" stroke="#484848" stroke-width="1.25" fill="none"/>
<rect x="1017.87" y="1972.51" width="20.9" height="31.09" fill="#626262" stroke="#363636" stroke-width="1.3"/>
<path d="M1017.87 1984.94h20.9" stroke="#2c2c2c" stroke-width="1.4"/>
<circle cx="1028.32" cy="1906.19" r="2.6" fill="#000"/>
<path d="M1073.74 1931.06V1972.51M1073.74 2005.67V2038.83M1068.24 1931.06h11M1068.24 2038.83h11" stroke="#484848" stroke-width="1.25" fill="none"/>
<rect x="1063.29" y="1972.51" width="20.9" height="33.16" fill="#d4d4d4" stroke="#3c3c3c" stroke-width="1.3"/>
<rect x="1064.44" y="1973.66" width="18.6" height="30.86" fill="none" stroke="#f6f6f6" stroke-width="1"/>
<path d="M1063.89 1989.09h19.7" stroke="#f0f0f0" stroke-width="2.7"/>
<path d="M1063.29 1989.09h20.9" stroke="#464646" stroke-width="1.3"/>
<circle cx="1073.74" cy="1906.19" r="2.6" fill="#000"/>
<path d="M1099.39 1931.06V1972.51M1099.39 2005.67V2038.83M1093.89 1931.06h11M1093.89 2038.83h11" stroke="#484848" stroke-width="1.25" fill="none"/>
<rect x="1088.94" y="1972.51" width="20.9" height="33.16" fill="#626262" stroke="#363636" stroke-width="1.3"/>
<path d="M1088.94 1989.09h20.9" stroke="#2c2c2c" stroke-width="1.4"/>
<path d="M1144.81 1897.9V1955.93M1144.81 1997.38V2030.54M1139.31 1897.9h11M1139.31 2030.54h11" stroke="#484848" stroke-width="1.25" fill="none"/>
<rect x="1134.36" y="1955.93" width="20.9" height="41.45" fill="#d4d4d4" stroke="#3c3c3c" stroke-width="1.3"/>
<rect x="1135.51" y="1957.08" width="18.6" height="39.15" fill="none" stroke="#f6f6f6" stroke-width="1"/>
<path d="M1134.96 1972.51h19.7" stroke="#f0f0f0" stroke-width="2.7"/>
<path d="M1134.36 1972.51h20.9" stroke="#464646" stroke-width="1.3"/>
<circle cx="1144.81" cy="1889.61" r="2.6" fill="#000"/>
<path d="M1170.46 1922.77V1972.51M1170.46 2005.67V2030.54M1164.96 1922.77h11M1164.96 2030.54h11" stroke="#484848" stroke-width="1.25" fill="none"/>
<rect x="1160.01" y="1972.51" width="20.9" height="33.16" fill="#626262" stroke="#363636" stroke-width="1.3"/>
<path d="M1160.01 1980.8h20.9" stroke="#2c2c2c" stroke-width="1.4"/>
<circle cx="1170.46" cy="1897.9" r="2.6" fill="#000"/>
<circle cx="1170.46" cy="1906.19" r="2.6" fill="#000"/>
<path d="M1215.88 1914.48V1970.44M1215.88 2007.74V2030.54M1210.38 1914.48h11M1210.38 2030.54h11" stroke="#484848" stroke-width="1.25" fill="none"/>
<rect x="1205.43" y="1970.44" width="20.9" height="37.3" fill="#d4d4d4" stroke="#3c3c3c" stroke-width="1.3"/>
<rect x="1206.58" y="1971.59" width="18.6" height="35" fill="none" stroke="#f6f6f6" stroke-width="1"/>
<path d="M1206.03 1980.8h19.7" stroke="#f0f0f0" stroke-width="2.7"/>
<path d="M1205.43 1980.8h20.9" stroke="#464646" stroke-width="1.3"/>
<circle cx="1215.88" cy="1897.9" r="2.6" fill="#000"/>
<circle cx="1215.88" cy="1906.19" r="2.6" fill="#000"/>
<path d="M1241.53 1931.06V1972.51M1241.53 2005.67V2038.83M1236.03 1931.06h11M1236.03 2038.83h11" stroke="#484848" stroke-width="1.25" fill="none"/>
<rect x="1231.08" y="1972.51" width="20.9" height="33.16" fill="#626262" stroke="#363636" stroke-width="1.3"/>
<path d="M1231.08 1989.09h20.9" stroke="#2c2c2c" stroke-width="1.4"/>
<circle cx="1241.53" cy="1906.19" r="2.6" fill="#000"/>
<path d="M1286.95 1939.35V1972.51M1286.95 1997.38V2030.54M1281.45 1939.35h11M1281.45 2030.54h11" stroke="#484848" stroke-width="1.25" fill="none"/>
<rect x="1276.5" y="1972.51" width="20.9" height="24.87" fill="#d4d4d4" stroke="#3c3c3c" stroke-width="1.3"/>
<rect x="1277.65" y="1973.66" width="18.6" height="22.57" fill="none" stroke="#f6f6f6" stroke-width="1"/>
<path d="M1277.1 1989.09h19.7" stroke="#f0f0f0" stroke-width="2.7"/>
<path d="M1276.5 1989.09h20.9" stroke="#464646" stroke-width="1.3"/>
<circle cx="1286.95" cy="1906.19" r="2.6" fill="#000"/>
<circle cx="1286.95" cy="1931.06" r="2.6" fill="#000"/>
<circle cx="1283.55" cy="2038.83" r="2.6" fill="#000"/>
<circle cx="1290.45" cy="2038.83" r="2.6" fill="#000"/>
<path d="M1312.6 1922.77V1972.51M1312.6 2005.67V2038.83M1307.1 1922.77h11M1307.1 2038.83h11" stroke="#484848" stroke-width="1.25" fill="none"/>
<rect x="1302.15" y="1972.51" width="20.9" height="33.16" fill="#626262" stroke="#363636" stroke-width="1.3"/>
<path d="M1302.15 1989.09h20.9" stroke="#2c2c2c" stroke-width="1.4"/>
<path d="M1358.02 1922.77V1972.51M1358.02 2005.67V2038.83M1352.52 1922.77h11M1352.52 2038.83h11" stroke="#484848" stroke-width="1.25" fill="none"/>
<rect x="1347.57" y="1972.51" width="20.9" height="33.16" fill="#d4d4d4" stroke="#3c3c3c" stroke-width="1.3"/>
<rect x="1348.72" y="1973.66" width="18.6" height="30.86" fill="none" stroke="#f6f6f6" stroke-width="1"/>
<path d="M1348.17 1989.09h19.7" stroke="#f0f0f0" stroke-width="2.7"/>
<path d="M1347.57 1989.09h20.9" stroke="#464646" stroke-width="1.3"/>
<path d="M1383.67 1931.06V1972.51M1383.67 2005.67V2038.83M1378.17 1931.06h11M1378.17 2038.83h11" stroke="#484848" stroke-width="1.25" fill="none"/>
<rect x="1373.22" y="1972.51" width="20.9" height="33.16" fill="#626262" stroke="#363636" stroke-width="1.3"/>
<path d="M1373.22 1989.09h20.9" stroke="#2c2c2c" stroke-width="1.4"/>
<path d="M919.5 1834.6V1838.2H968.1V1834.6" stroke="#4a4a4a" stroke-width="1.2" fill="none"/>
<text transform="translate(944.14 1829.5) scale(0.915 1)" font-size="17.8" text-anchor="middle" letter-spacing="2.7" font-weight="bold" style="font-family:'DejaVu Sans',sans-serif">***</text>
<path d="M990.6 1834.6V1838.2H1039.1V1834.6" stroke="#4a4a4a" stroke-width="1.2" fill="none"/>
<text transform="translate(1015.19 1829.5) scale(0.915 1)" font-size="17.8" text-anchor="middle" letter-spacing="2.7" font-weight="bold" style="font-family:'DejaVu Sans',sans-serif">***</text>
<path d="M1062.2 1834.6V1838.2H1111.1V1834.6" stroke="#4a4a4a" stroke-width="1.2" fill="none"/>
<text transform="translate(1086.99 1829.5) scale(0.915 1)" font-size="17.8" text-anchor="middle" letter-spacing="2.7" font-weight="bold" style="font-family:'DejaVu Sans',sans-serif">*</text>
<path d="M1133.9 1834.6V1838.2H1182.7V1834.6" stroke="#4a4a4a" stroke-width="1.2" fill="none"/>
<text transform="translate(1158.64 1829.5) scale(0.915 1)" font-size="17.8" text-anchor="middle" letter-spacing="2.7" font-weight="bold" style="font-family:'DejaVu Sans',sans-serif">***</text>
<path d="M909.1 1813.35V2148.35" stroke="#000" stroke-width="3.5"/>
<path d="M895.1 2146.6H1407.1" stroke="#000" stroke-width="3.5"/>
<path d="M895.1 1815H909.1" stroke="#000" stroke-width="3.3"/>
<text x="891.7" y="1824.6" font-size="25.3" text-anchor="end" font-weight="bold">0.4</text>
<path d="M895.1 1897.9H909.1" stroke="#000" stroke-width="3.3"/>
<text x="891.7" y="1907.5" font-size="25.3" text-anchor="end" font-weight="bold">0.3</text>
<path d="M895.1 1980.8H909.1" stroke="#000" stroke-width="3.3"/>
<text x="891.7" y="1990.4" font-size="25.3" text-anchor="end" font-weight="bold">0.2</text>
<path d="M895.1 2063.7H909.1" stroke="#000" stroke-width="3.3"/>
<text x="891.7" y="2073.3" font-size="25.3" text-anchor="end" font-weight="bold">0.1</text>
<text x="891.7" y="2156.2" font-size="25.3" text-anchor="end" font-weight="bold">0.0</text>
<path d="M943.9 2146.6V2160.6" stroke="#000" stroke-width="3.3"/>
<text transform="translate(952.6 2182.85) rotate(-45)" font-size="25.1" text-anchor="end" font-weight="bold">Post proc.</text>
<path d="M1014.97 2146.6V2160.6" stroke="#000" stroke-width="3.3"/>
<text transform="translate(1023.67 2182.85) rotate(-45)" font-size="25.1" text-anchor="end" font-weight="bold">LPVs</text>
<path d="M1086.04 2146.6V2160.6" stroke="#000" stroke-width="3.3"/>
<text transform="translate(1094.74 2182.85) rotate(-45)" font-size="25.1" text-anchor="end" font-weight="bold">RPVs</text>
<path d="M1157.11 2146.6V2160.6" stroke="#000" stroke-width="3.3"/>
<text transform="translate(1165.81 2182.85) rotate(-45)" font-size="25.1" text-anchor="end" font-weight="bold">LSPV</text>
<path d="M1228.18 2146.6V2160.6" stroke="#000" stroke-width="3.3"/>
<text transform="translate(1236.88 2182.85) rotate(-45)" font-size="25.1" text-anchor="end" font-weight="bold">LIPV</text>
<path d="M1299.25 2146.6V2160.6" stroke="#000" stroke-width="3.3"/>
<text transform="translate(1307.95 2182.85) rotate(-45)" font-size="25.1" text-anchor="end" font-weight="bold">RSPV</text>
<path d="M1370.32 2146.6V2160.6" stroke="#000" stroke-width="3.3"/>
<text transform="translate(1379.02 2182.85) rotate(-45)" font-size="25.1" text-anchor="end" font-weight="bold">RIPV</text>
<text transform="translate(844.7 1980.8) rotate(-90)" font-size="25" text-anchor="middle" font-weight="bold">au</text>
<text x="1157.6" y="1785.4" font-size="50.5" text-anchor="middle" font-weight="bold">Sample Entropy</text>
<text x="744.6" y="1779" font-size="45.5" style="font-family:'Liberation Sans',sans-serif;fill:#231f20" font-weight="bold">H</text>
</g>
<g id="legend">
<rect x="1455.4" y="68.3" width="48" height="36.1" fill="#d4d4d4" stroke="#222" stroke-width="1"/>
<rect x="1455.4" y="145.8" width="48" height="36.1" fill="#626262" stroke="#222" stroke-width="1"/>
<text x="1531.6" y="103.9" font-size="50.3" font-weight="bold">Baseline</text>
<text x="1531.6" y="180.9" font-size="50.3" font-weight="bold">Postablation</text>
</g>
</svg>
</body>
</html>
